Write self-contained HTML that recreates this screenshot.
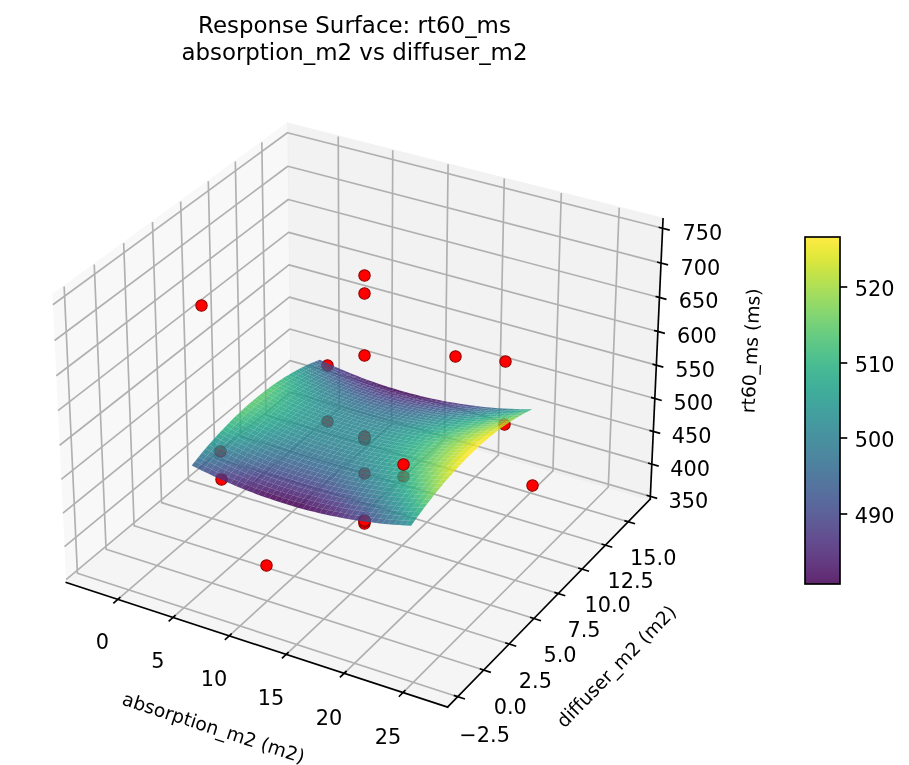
<!DOCTYPE html>
<html lang="en"><head><meta charset="utf-8"><title>Response Surface: rt60_ms</title>
<style>html,body{margin:0;padding:0;background:#fff}body{width:909px;height:765px;overflow:hidden}svg{display:block}text{font-family:"DejaVu Sans","Liberation Sans",sans-serif;fill:#000;stroke:none;font-variant-ligatures:none}</style></head>
<body>
<svg width="909" height="765" viewBox="64.8 21.12 436.32 367.2" stroke-linejoin="round" stroke-linecap="butt" role="img" aria-label="Response Surface: rt60_ms, absorption_m2 vs diffuser_m2">
<path d="M96.61 300.75L204.22 210.54L202.72 80.45L89.96 162.74" fill="#f2f2f2" opacity="0.5" stroke="#f2f2f2" stroke-linejoin="miter"/><path d="M204.22 210.54L376.9 260.73L383.06 126.16L202.72 80.45" fill="#e6e6e6" opacity="0.5" stroke="#e6e6e6" stroke-linejoin="miter"/><path d="M96.61 300.75L279.66 360.53L376.9 260.73L204.22 210.54" fill="#ececec" opacity="0.5" stroke="#ececec" stroke-linejoin="miter"/><path d="M121.35 308.83L227.66 217.35L227.15 86.65" fill="none" stroke="#b0b0b0" stroke-width="0.8"/><path d="M147.88 317.49L252.74 224.65L253.32 93.28" fill="none" stroke="#b0b0b0" stroke-width="0.8"/><path d="M174.82 326.29L278.19 232.04L279.88 100.01" fill="none" stroke="#b0b0b0" stroke-width="0.8"/><path d="M202.19 335.23L304.01 239.55L306.85 106.84" fill="none" stroke="#b0b0b0" stroke-width="0.8"/><path d="M230 344.31L330.2 247.16L334.22 113.78" fill="none" stroke="#b0b0b0" stroke-width="0.8"/><path d="M258.25 353.54L356.78 254.89L362.01 120.83" fill="none" stroke="#b0b0b0" stroke-width="0.8"/><path d="M95.59 158.63L101.96 296.26L284.52 355.54" fill="none" stroke="#b0b0b0" stroke-width="0.8"/><path d="M110.04 148.09L115.71 284.74L296.98 342.75" fill="none" stroke="#b0b0b0" stroke-width="0.8"/><path d="M124.17 137.78L129.17 273.45L309.17 330.24" fill="none" stroke="#b0b0b0" stroke-width="0.8"/><path d="M138 127.69L142.35 262.4L321.1 318" fill="none" stroke="#b0b0b0" stroke-width="0.8"/><path d="M151.53 117.81L155.27 251.58L332.77 306.02" fill="none" stroke="#b0b0b0" stroke-width="0.8"/><path d="M164.79 108.14L167.92 240.97L344.2 294.3" fill="none" stroke="#b0b0b0" stroke-width="0.8"/><path d="M177.76 98.67L180.33 230.57L355.38 282.82" fill="none" stroke="#b0b0b0" stroke-width="0.8"/><path d="M190.47 89.39L192.49 220.38L366.34 271.57" fill="none" stroke="#b0b0b0" stroke-width="0.8"/><path d="M376.96 259.4L204.2 209.25L96.54 299.38" fill="none" stroke="#b0b0b0" stroke-width="0.8"/><path d="M377.67 243.89L204.03 194.23L95.77 283.5" fill="none" stroke="#b0b0b0" stroke-width="0.8"/><path d="M378.39 228.23L203.86 179.07L95 267.45" fill="none" stroke="#b0b0b0" stroke-width="0.8"/><path d="M379.11 212.4L203.68 163.75L94.22 251.23" fill="none" stroke="#b0b0b0" stroke-width="0.8"/><path d="M379.85 196.4L203.5 148.28L93.43 234.83" fill="none" stroke="#b0b0b0" stroke-width="0.8"/><path d="M380.59 180.24L203.32 132.66L92.63 218.25" fill="none" stroke="#b0b0b0" stroke-width="0.8"/><path d="M381.33 163.91L203.14 116.88L91.83 201.49" fill="none" stroke="#b0b0b0" stroke-width="0.8"/><path d="M382.09 147.4L202.96 100.94L91.01 184.55" fill="none" stroke="#b0b0b0" stroke-width="0.8"/><path d="M382.85 130.71L202.77 84.84L90.18 167.42" fill="none" stroke="#b0b0b0" stroke-width="0.8"/><path d="M96.61 300.75L279.66 360.53" fill="none" stroke="#000" stroke-width="0.8" stroke-linecap="square"/><path d="M122.28 308.03L119.5 310.43" fill="none" stroke="#000" stroke-width="0.8" stroke-linecap="square"/><g transform="translate(.144 0)"><text font-size="10" text-anchor="middle" x="113.84221" y="332.64">0</text></g><path d="M148.79 316.68L146.05 319.11" fill="none" stroke="#000" stroke-width="0.8" stroke-linecap="square"/><g transform="translate(.144 0)"><text font-size="10" text-anchor="middle" x="140.390412" y="341.76">5</text></g><path d="M175.72 325.47L173.02 327.94" fill="none" stroke="#000" stroke-width="0.8" stroke-linecap="square"/><g transform="translate(.144 0)"><text font-size="10" text-anchor="middle" x="167.356785" y="350.4">10</text></g><path d="M203.08 334.4L200.41 336.9" fill="none" stroke="#000" stroke-width="0.8" stroke-linecap="square"/><g transform="translate(.144 0)"><text font-size="10" text-anchor="middle" x="194.751289" y="359.52">15</text></g><path d="M230.87 343.46L228.24 346.01" fill="none" stroke="#000" stroke-width="0.8" stroke-linecap="square"/><g transform="translate(.144 0)"><text font-size="10" text-anchor="middle" x="222.584201" y="368.88">20</text></g><path d="M259.11 352.68L256.52 355.27" fill="none" stroke="#000" stroke-width="0.8" stroke-linecap="square"/><g transform="translate(.144 0)"><text font-size="10" text-anchor="middle" x="250.86613" y="378">25</text></g><g transform="translate(.288 .413)"><text font-size="9" text-anchor="middle" x="166.096084" y="372.989938" transform="rotate(-341.913 166.096 372.99)">absorption_m2 (m2)</text></g><path d="M376.9 260.73L279.66 360.53" fill="none" stroke="#000" stroke-width="0.8" stroke-linecap="square"/><path d="M282.98 355.04L287.6 356.54" fill="none" stroke="#000" stroke-width="0.8" stroke-linecap="square"/><text font-size="10" text-anchor="middle" x="297.415962" y="377.184">−2.5</text><path d="M295.45 342.26L300.04 343.73" fill="none" stroke="#000" stroke-width="0.8" stroke-linecap="square"/><text font-size="10" text-anchor="middle" x="309.74273" y="364.032">0.0</text><path d="M307.66 329.76L312.21 331.2" fill="none" stroke="#000" stroke-width="0.8" stroke-linecap="square"/><text font-size="10" text-anchor="middle" x="321.800219" y="351.36">2.5</text><path d="M319.59 317.53L324.11 318.94" fill="none" stroke="#000" stroke-width="0.8" stroke-linecap="square"/><text font-size="10" text-anchor="middle" x="333.597157" y="339.12">5.0</text><path d="M331.28 305.56L335.76 306.94" fill="none" stroke="#000" stroke-width="0.8" stroke-linecap="square"/><text font-size="10" text-anchor="middle" x="345.1419" y="326.784">7.5</text><path d="M342.72 293.85L347.16 295.19" fill="none" stroke="#000" stroke-width="0.8" stroke-linecap="square"/><text font-size="10" text-anchor="middle" x="356.442449" y="315.12">10.0</text><path d="M353.91 282.38L358.33 283.69" fill="none" stroke="#000" stroke-width="0.8" stroke-linecap="square"/><text font-size="10" text-anchor="middle" x="367.506471" y="303.36">12.5</text><path d="M364.88 271.14L369.26 272.43" fill="none" stroke="#000" stroke-width="0.8" stroke-linecap="square"/><text font-size="10" text-anchor="middle" x="378.341315" y="292.128">15.0</text><g transform="translate(-.576 .557)"><text font-size="9" text-anchor="middle" x="363.42784" y="342.535096" transform="rotate(-45.742 363.428 342.535)">diffuser_m2 (m2)</text></g><path d="M376.9 260.73L383.06 126.16" fill="none" stroke="#000" stroke-width="0.8" stroke-linecap="square"/><path d="M375.51 258.97L379.87 260.24" fill="none" stroke="#000" stroke-width="0.8" stroke-linecap="square"/><text font-size="10" text-anchor="middle" x="395.228524" y="264.864">350</text><path d="M376.21 243.47L380.59 244.73" fill="none" stroke="#000" stroke-width="0.8" stroke-linecap="square"/><text font-size="10" text-anchor="middle" x="396.030769" y="249.456">400</text><path d="M376.92 227.81L381.32 229.05" fill="none" stroke="#000" stroke-width="0.8" stroke-linecap="square"/><text font-size="10" text-anchor="middle" x="396.841314" y="233.616">450</text><path d="M377.64 211.99L382.06 213.22" fill="none" stroke="#000" stroke-width="0.8" stroke-linecap="square"/><text font-size="10" text-anchor="middle" x="397.660288" y="217.728">500</text><path d="M378.36 196L382.81 197.21" fill="none" stroke="#000" stroke-width="0.8" stroke-linecap="square"/><text font-size="10" text-anchor="middle" x="398.487824" y="201.888">550</text><path d="M379.1 179.84L383.57 181.04" fill="none" stroke="#000" stroke-width="0.8" stroke-linecap="square"/><text font-size="10" text-anchor="middle" x="399.324056" y="185.616">600</text><path d="M379.84 163.51L384.33 164.7" fill="none" stroke="#000" stroke-width="0.8" stroke-linecap="square"/><text font-size="10" text-anchor="middle" x="400.169122" y="169.2">650</text><path d="M380.58 147.01L385.11 148.18" fill="none" stroke="#000" stroke-width="0.8" stroke-linecap="square"/><text font-size="10" text-anchor="middle" x="401.023164" y="153.072">700</text><path d="M381.34 130.33L385.89 131.49" fill="none" stroke="#000" stroke-width="0.8" stroke-linecap="square"/><text font-size="10" text-anchor="middle" x="401.886324" y="136.224">750</text><g transform="translate(-.816 .845)"><text font-size="9" text-anchor="middle" x="429.117467" y="188.753536" transform="rotate(-87.378 429.117 188.754)">rt60_ms (ms)</text></g><circle cx="222" cy="223.44" r="2.7386" fill="#f00" stroke="#8b0000" stroke-width=".5"/><g transform="translate(0 .509)"><text font-size="11" text-anchor="middle" x="234.936" y="36.6">Response Surface: rt60_ms</text><text font-size="11" text-anchor="middle" x="234.936" y="49.224">absorption_m2 vs diffuser_m2</text></g><circle cx="283.44" cy="192.24" r="2.7386" fill="#f00" stroke="#8b0000" stroke-width=".5"/><circle cx="222" cy="196.56" r="2.7386" fill="#f00" stroke="#8b0000" stroke-width=".5"/><circle cx="239.76" cy="272.4" r="2.7386" fill="#f00" stroke="#8b0000" stroke-width=".5"/><circle cx="239.76" cy="271.44" r="2.7386" fill="#f00" stroke="#8b0000" stroke-width=".5"/><circle cx="239.76" cy="270.96" r="2.7386" fill="#f00" stroke="#8b0000" stroke-width=".5"/><circle cx="306.96" cy="224.88" r="2.7386" fill="#f00" stroke="#8b0000" stroke-width=".5"/><circle cx="161.52" cy="167.76" r="2.7386" fill="#f00" stroke="#8b0000" stroke-width=".5"/><circle cx="239.76" cy="248.4" r="2.7386" fill="#f00" stroke="#8b0000" stroke-width=".5"/><circle cx="239.76" cy="232.08" r="2.7386" fill="#f00" stroke="#8b0000" stroke-width=".5"/><circle cx="239.76" cy="231.6" r="2.7386" fill="#f00" stroke="#8b0000" stroke-width=".5"/><circle cx="239.76" cy="230.64" r="2.7386" fill="#f00" stroke="#8b0000" stroke-width=".5"/><circle cx="307.44" cy="194.64" r="2.7386" fill="#f00" stroke="#8b0000" stroke-width=".5"/><circle cx="171.12" cy="251.28" r="2.7386" fill="#f00" stroke="#8b0000" stroke-width=".5"/><circle cx="170.64" cy="237.84" r="2.7386" fill="#f00" stroke="#8b0000" stroke-width=".5"/><circle cx="239.76" cy="191.76" r="2.7386" fill="#f00" stroke="#8b0000" stroke-width=".5"/><circle cx="239.76" cy="162" r="2.7386" fill="#f00" stroke="#8b0000" stroke-width=".5"/><circle cx="320.4" cy="254.16" r="2.7386" fill="#f00" stroke="#8b0000" stroke-width=".5"/><circle cx="239.76" cy="153.36" r="2.7386" fill="#f00" stroke="#8b0000" stroke-width=".5"/><circle cx="192.72" cy="292.56" r="2.7386" fill="#f00" stroke="#8b0000" stroke-width=".5"/><circle cx="258.48" cy="249.84" r="2.7386" fill="#f00" stroke="#8b0000" stroke-width=".5"/><g fill-opacity=".85"><path d="M216.81 194.39L219.35 195.59L220.85 195.02L218.31 193.82z" fill="#39568c"/><path d="M219.35 195.59L221.9 196.76L223.4 196.18L220.85 195.02z" fill="#3d4d8a"/><path d="M221.9 196.76L224.45 197.89L225.94 197.31L223.4 196.18z" fill="#404588"/><path d="M215.3 195L217.84 196.2L219.35 195.59L216.81 194.39z" fill="#33628d"/><path d="M224.45 197.89L227 199L228.49 198.42L225.94 197.31z" fill="#433d84"/><path d="M217.84 196.2L220.39 197.37L221.9 196.76L219.35 195.59z" fill="#375a8c"/><path d="M227 199L229.55 200.07L231.05 199.49L228.49 198.42z" fill="#463480"/><path d="M220.39 197.37L222.95 198.51L224.45 197.89L221.9 196.76z" fill="#3b528b"/><path d="M213.78 195.65L216.33 196.85L217.84 196.2L215.3 195z" fill="#2e6e8e"/><path d="M229.55 200.07L232.11 201.12L233.6 200.53L231.05 199.49z" fill="#472e7c"/><path d="M222.95 198.51L225.5 199.62L227 199L224.45 197.89z" fill="#3e4a89"/><path d="M216.33 196.85L218.88 198.02L220.39 197.37L217.84 196.2z" fill="#32658e"/><path d="M232.11 201.12L234.67 202.13L236.16 201.54L233.6 200.53z" fill="#482677"/><path d="M225.5 199.62L228.06 200.7L229.55 200.07L227 199z" fill="#414287"/><path d="M218.88 198.02L221.44 199.17L222.95 198.51L220.39 197.37z" fill="#355e8d"/><path d="M234.67 202.13L237.24 203.12L238.72 202.52L236.16 201.54z" fill="#482173"/><path d="M212.26 196.33L214.82 197.53L216.33 196.85L213.78 195.65z" fill="#2a778e"/><path d="M228.06 200.7L230.62 201.75L232.11 201.12L229.55 200.07z" fill="#443b84"/><path d="M221.44 199.17L224 200.28L225.5 199.62L222.95 198.51z" fill="#39568c"/><path d="M237.24 203.12L239.8 204.07L241.28 203.47L238.72 202.52z" fill="#481b6d"/><path d="M214.82 197.53L217.37 198.71L218.88 198.02L216.33 196.85z" fill="#2d708e"/><path d="M230.62 201.75L233.18 202.76L234.67 202.13L232.11 201.12z" fill="#453581"/><path d="M224 200.28L226.56 201.36L228.06 200.7L225.5 199.62z" fill="#3c4f8a"/><path d="M217.37 198.71L219.93 199.86L221.44 199.17L218.88 198.02z" fill="#31688e"/><path d="M239.8 204.07L242.38 204.99L243.85 204.39L241.28 203.47z" fill="#481769"/><path d="M233.18 202.76L235.75 203.75L237.24 203.12L234.67 202.13z" fill="#472f7d"/><path d="M210.74 197.04L213.3 198.26L214.82 197.53L212.26 196.33z" fill="#26818e"/><path d="M226.56 201.36L229.12 202.41L230.62 201.75L228.06 200.7z" fill="#3f4889"/><path d="M219.93 199.86L222.49 200.97L224 200.28L221.44 199.17z" fill="#34618d"/><path d="M242.38 204.99L244.95 205.89L246.42 205.28L243.85 204.39z" fill="#471365"/><path d="M235.75 203.75L238.32 204.71L239.8 204.07L237.24 203.12z" fill="#472a7a"/><path d="M213.3 198.26L215.85 199.44L217.37 198.71L214.82 197.53z" fill="#29798e"/><path d="M229.12 202.41L231.69 203.43L233.18 202.76L230.62 201.75z" fill="#414287"/><path d="M222.49 200.97L225.05 202.06L226.56 201.36L224 200.28z" fill="#375b8d"/><path d="M244.95 205.89L247.53 206.75L249 206.14L246.42 205.28z" fill="#470e61"/><path d="M215.85 199.44L218.41 200.59L219.93 199.86L217.37 198.71z" fill="#2c718e"/><path d="M238.32 204.71L240.89 205.63L242.38 204.99L239.8 204.07z" fill="#482576"/><path d="M231.69 203.43L234.26 204.42L235.75 203.75L233.18 202.76z" fill="#433d84"/><path d="M209.22 197.8L211.77 199.01L213.3 198.26L210.74 197.04z" fill="#23898e"/><path d="M225.05 202.06L227.62 203.11L229.12 202.41L226.56 201.36z" fill="#3a548c"/><path d="M218.41 200.59L220.98 201.71L222.49 200.97L219.93 199.86z" fill="#2f6b8e"/><path d="M247.53 206.75L250.11 207.58L251.58 206.97L249 206.14z" fill="#460b5e"/><path d="M240.89 205.63L243.47 206.53L244.95 205.89L242.38 204.99z" fill="#482173"/><path d="M211.77 199.01L214.33 200.2L215.85 199.44L213.3 198.26z" fill="#26828e"/><path d="M234.26 204.42L236.83 205.38L238.32 204.71L235.75 203.75z" fill="#453882"/><path d="M227.62 203.11L230.19 204.14L231.69 203.43L229.12 202.41z" fill="#3d4e8a"/><path d="M220.98 201.71L223.54 202.79L225.05 202.06L222.49 200.97z" fill="#32658e"/><path d="M250.11 207.58L252.7 208.38L254.16 207.76L251.58 206.97z" fill="#460a5d"/><path d="M243.47 206.53L246.05 207.39L247.53 206.75L244.95 205.89z" fill="#481f70"/><path d="M214.33 200.2L216.9 201.35L218.41 200.59L215.85 199.44z" fill="#297a8e"/><path d="M236.83 205.38L239.41 206.31L240.89 205.63L238.32 204.71z" fill="#46337f"/><path d="M230.19 204.14L232.76 205.13L234.26 204.42L231.69 203.43z" fill="#3e4989"/><path d="M207.68 198.59L210.25 199.81L211.77 199.01L209.22 197.8z" fill="#20928c"/><path d="M223.54 202.79L226.11 203.85L227.62 203.11L225.05 202.06z" fill="#355f8d"/><path d="M216.9 201.35L219.46 202.47L220.98 201.71L218.41 200.59z" fill="#2c738e"/><path d="M252.7 208.38L255.29 209.15L256.75 208.53L254.16 207.76z" fill="#46085c"/><path d="M246.05 207.39L248.64 208.23L250.11 207.58L247.53 206.75z" fill="#481c6e"/><path d="M239.41 206.31L241.99 207.21L243.47 206.53L240.89 205.63z" fill="#472f7d"/><path d="M210.25 199.81L212.81 201L214.33 200.2L211.77 199.01z" fill="#238a8d"/><path d="M232.76 205.13L235.34 206.09L236.83 205.38L234.26 204.42z" fill="#414487"/><path d="M226.11 203.85L228.69 204.88L230.19 204.14L227.62 203.11z" fill="#38598c"/><path d="M219.46 202.47L222.03 203.57L223.54 202.79L220.98 201.71z" fill="#2e6e8e"/><path d="M255.29 209.15L257.88 209.89L259.34 209.27L256.75 208.53z" fill="#46085c"/><path d="M248.64 208.23L251.22 209.03L252.7 208.38L250.11 207.58z" fill="#481b6d"/><path d="M212.81 201L215.37 202.16L216.9 201.35L214.33 200.2z" fill="#26828e"/><path d="M241.99 207.21L244.57 208.08L246.05 207.39L243.47 206.53z" fill="#472d7b"/><path d="M235.34 206.09L237.92 207.03L239.41 206.31L236.83 205.38z" fill="#424086"/><path d="M228.69 204.88L231.26 205.88L232.76 205.13L230.19 204.14z" fill="#3a538b"/><path d="M206.15 199.42L208.71 200.65L210.25 199.81L207.68 198.59z" fill="#1f998a"/><path d="M222.03 203.57L224.6 204.63L226.11 203.85L223.54 202.79z" fill="#31688e"/><path d="M215.37 202.16L217.94 203.28L219.46 202.47L216.9 201.35z" fill="#287c8e"/><path d="M257.88 209.89L260.48 210.6L261.93 209.97L259.34 209.27z" fill="#46085c"/><path d="M251.22 209.03L253.82 209.81L255.29 209.15L252.7 208.38z" fill="#481a6c"/><path d="M244.57 208.08L247.16 208.92L248.64 208.23L246.05 207.39z" fill="#472a7a"/><path d="M237.92 207.03L240.5 207.93L241.99 207.21L239.41 206.31z" fill="#433d84"/><path d="M208.71 200.65L211.28 201.84L212.81 201L210.25 199.81z" fill="#20928c"/><path d="M231.26 205.88L233.84 206.84L235.34 206.09L232.76 205.13z" fill="#3c4f8a"/><path d="M224.6 204.63L227.18 205.66L228.69 204.88L226.11 203.85z" fill="#33628d"/><path d="M217.94 203.28L220.51 204.38L222.03 203.57L219.46 202.47z" fill="#2b758e"/><path d="M253.82 209.81L256.41 210.55L257.88 209.89L255.29 209.15z" fill="#48186a"/><path d="M260.48 210.6L263.08 211.27L264.53 210.65L261.93 209.97z" fill="#460a5d"/><path d="M211.28 201.84L213.85 203L215.37 202.16L212.81 201z" fill="#238a8d"/><path d="M247.16 208.92L249.75 209.72L251.22 209.03L248.64 208.23z" fill="#482878"/><path d="M240.5 207.93L243.09 208.8L244.57 208.08L241.99 207.21z" fill="#443983"/><path d="M233.84 206.84L236.42 207.78L237.92 207.03L235.34 206.09z" fill="#3e4a89"/><path d="M204.61 200.29L207.18 201.52L208.71 200.65L206.15 199.42z" fill="#1fa188"/><path d="M227.18 205.66L229.76 206.66L231.26 205.88L228.69 204.88z" fill="#365d8d"/><path d="M220.51 204.38L223.09 205.44L224.6 204.63L222.03 203.57z" fill="#2d708e"/><path d="M213.85 203L216.42 204.13L217.94 203.28L215.37 202.16z" fill="#25838e"/><path d="M256.41 210.55L259.01 211.26L260.48 210.6L257.88 209.89z" fill="#481a6c"/><path d="M249.75 209.72L252.34 210.5L253.82 209.81L251.22 209.03z" fill="#482878"/><path d="M263.08 211.27L265.68 211.92L267.14 211.29L264.53 210.65z" fill="#470d60"/><path d="M243.09 208.8L245.68 209.64L247.16 208.92L244.57 208.08z" fill="#453781"/><path d="M207.18 201.52L209.75 202.71L211.28 201.84L208.71 200.65z" fill="#1f988b"/><path d="M236.42 207.78L239.01 208.68L240.5 207.93L237.92 207.03z" fill="#3f4788"/><path d="M229.76 206.66L232.34 207.63L233.84 206.84L231.26 205.88z" fill="#38598c"/><path d="M223.09 205.44L225.67 206.48L227.18 205.66L224.6 204.63z" fill="#2f6b8e"/><path d="M216.42 204.13L218.99 205.23L220.51 204.38L217.94 203.28z" fill="#287d8e"/><path d="M209.75 202.71L212.32 203.88L213.85 203L211.28 201.84z" fill="#21918c"/><path d="M252.34 210.5L254.94 211.24L256.41 210.55L253.82 209.81z" fill="#482677"/><path d="M245.68 209.64L248.27 210.45L249.75 209.72L247.16 208.92z" fill="#453581"/><path d="M259.01 211.26L261.62 211.94L263.08 211.27L260.48 210.6z" fill="#481b6d"/><path d="M239.01 208.68L241.6 209.56L243.09 208.8L240.5 207.93z" fill="#404588"/><path d="M265.68 211.92L268.29 212.54L269.74 211.9L267.14 211.29z" fill="#471063"/><path d="M232.34 207.63L234.92 208.57L236.42 207.78L233.84 206.84z" fill="#3a548c"/><path d="M203.07 201.2L205.64 202.43L207.18 201.52L204.61 200.29z" fill="#21a685"/><path d="M225.67 206.48L228.25 207.48L229.76 206.66L227.18 205.66z" fill="#31668e"/><path d="M218.99 205.23L221.57 206.3L223.09 205.44L220.51 204.38z" fill="#2a778e"/><path d="M212.32 203.88L214.89 205.01L216.42 204.13L213.85 203z" fill="#238a8d"/><path d="M248.27 210.45L250.87 211.23L252.34 210.5L249.75 209.72z" fill="#463480"/><path d="M254.94 211.24L257.55 211.96L259.01 211.26L256.41 210.55z" fill="#482878"/><path d="M241.6 209.56L244.19 210.4L245.68 209.64L243.09 208.8z" fill="#414287"/><path d="M205.64 202.43L208.21 203.63L209.75 202.71L207.18 201.52z" fill="#1f9f88"/><path d="M261.62 211.94L264.23 212.59L265.68 211.92L263.08 211.27z" fill="#481c6e"/><path d="M234.92 208.57L237.51 209.48L239.01 208.68L236.42 207.78z" fill="#3b518b"/><path d="M268.29 212.54L270.91 213.12L272.35 212.48L269.74 211.9z" fill="#471365"/><path d="M228.25 207.48L230.83 208.46L232.34 207.63L229.76 206.66z" fill="#33628d"/><path d="M221.57 206.3L224.15 207.33L225.67 206.48L223.09 205.44z" fill="#2c728e"/><path d="M214.89 205.01L217.47 206.11L218.99 205.23L216.42 204.13z" fill="#25848e"/><path d="M208.21 203.63L210.78 204.79L212.32 203.88L209.75 202.71z" fill="#1f978b"/><path d="M250.87 211.23L253.47 211.98L254.94 211.24L252.34 210.5z" fill="#46337f"/><path d="M244.19 210.4L246.79 211.22L248.27 210.45L245.68 209.64z" fill="#424086"/><path d="M257.55 211.96L260.15 212.64L261.62 211.94L259.01 211.26z" fill="#482878"/><path d="M237.51 209.48L240.1 210.36L241.6 209.56L239.01 208.68z" fill="#3c4f8a"/><path d="M264.23 212.59L266.84 213.21L268.29 212.54L265.68 211.92z" fill="#481f70"/><path d="M230.83 208.46L233.42 209.4L234.92 208.57L232.34 207.63z" fill="#355e8d"/><path d="M201.52 202.14L204.09 203.38L205.64 202.43L203.07 201.2z" fill="#26ad81"/><path d="M270.91 213.12L273.53 213.67L274.97 213.03L272.35 212.48z" fill="#48186a"/><path d="M224.15 207.33L226.73 208.34L228.25 207.48L225.67 206.48z" fill="#2e6e8e"/><path d="M217.47 206.11L220.05 207.19L221.57 206.3L218.99 205.23z" fill="#277f8e"/><path d="M210.78 204.79L213.36 205.93L214.89 205.01L212.32 203.88z" fill="#21918c"/><path d="M204.09 203.38L206.67 204.58L208.21 203.63L205.64 202.43z" fill="#20a486"/><path d="M246.79 211.22L249.39 212L250.87 211.23L248.27 210.45z" fill="#423f85"/><path d="M240.1 210.36L242.7 211.2L244.19 210.4L241.6 209.56z" fill="#3d4d8a"/><path d="M253.47 211.98L256.07 212.69L257.55 211.96L254.94 211.24z" fill="#463480"/><path d="M233.42 209.4L236.01 210.31L237.51 209.48L234.92 208.57z" fill="#375b8d"/><path d="M260.15 212.64L262.76 213.29L264.23 212.59L261.62 211.94z" fill="#472a7a"/><path d="M226.73 208.34L229.32 209.32L230.83 208.46L228.25 207.48z" fill="#306a8e"/><path d="M266.84 213.21L269.46 213.79L270.91 213.12L268.29 212.54z" fill="#482374"/><path d="M220.05 207.19L222.63 208.23L224.15 207.33L221.57 206.3z" fill="#29798e"/><path d="M273.53 213.67L276.15 214.2L277.59 213.55L274.97 213.03z" fill="#481c6e"/><path d="M213.36 205.93L215.94 207.04L217.47 206.11L214.89 205.01z" fill="#238a8d"/><path d="M206.67 204.58L209.24 205.75L210.78 204.79L208.21 203.63z" fill="#1e9d89"/><path d="M242.7 211.2L245.3 212.02L246.79 211.22L244.19 210.4z" fill="#3e4a89"/><path d="M249.39 212L251.99 212.75L253.47 211.98L250.87 211.23z" fill="#423f85"/><path d="M236.01 210.31L238.6 211.19L240.1 210.36L237.51 209.48z" fill="#38588c"/><path d="M199.97 203.13L202.55 204.36L204.09 203.38L201.52 202.14z" fill="#2cb17e"/><path d="M256.07 212.69L258.68 213.38L260.15 212.64L257.55 211.96z" fill="#453581"/><path d="M229.32 209.32L231.91 210.26L233.42 209.4L230.83 208.46z" fill="#31668e"/><path d="M262.76 213.29L265.38 213.91L266.84 213.21L264.23 212.59z" fill="#472d7b"/><path d="M222.63 208.23L225.22 209.24L226.73 208.34L224.15 207.33z" fill="#2b748e"/><path d="M269.46 213.79L272.08 214.35L273.53 213.67L270.91 213.12z" fill="#482677"/><path d="M215.94 207.04L218.52 208.11L220.05 207.19L217.47 206.11z" fill="#25848e"/><path d="M276.15 214.2L278.78 214.69L280.22 214.04L277.59 213.55z" fill="#482374"/><path d="M209.24 205.75L211.82 206.89L213.36 205.93L210.78 204.79z" fill="#1f968b"/><path d="M202.55 204.36L205.12 205.57L206.67 204.58L204.09 203.38z" fill="#24aa83"/><path d="M245.3 212.02L247.9 212.8L249.39 212L246.79 211.22z" fill="#3e4989"/><path d="M238.6 211.19L241.2 212.04L242.7 211.2L240.1 210.36z" fill="#39558c"/><path d="M251.99 212.75L254.6 213.47L256.07 212.69L253.47 211.98z" fill="#423f85"/><path d="M231.91 210.26L234.5 211.18L236.01 210.31L233.42 209.4z" fill="#33638d"/><path d="M258.68 213.38L261.3 214.04L262.76 213.29L260.15 212.64z" fill="#453781"/><path d="M225.22 209.24L227.81 210.22L229.32 209.32L226.73 208.34z" fill="#2d718e"/><path d="M265.38 213.91L268 214.5L269.46 213.79L266.84 213.21z" fill="#472f7d"/><path d="M218.52 208.11L221.11 209.16L222.63 208.23L220.05 207.19z" fill="#27808e"/><path d="M272.08 214.35L274.7 214.87L276.15 214.2L273.53 213.67z" fill="#472c7a"/><path d="M211.82 206.89L214.41 208L215.94 207.04L213.36 205.93z" fill="#21908d"/><path d="M278.78 214.69L281.41 215.15L282.85 214.5L280.22 214.04z" fill="#482878"/><path d="M205.12 205.57L207.7 206.74L209.24 205.75L206.67 204.58z" fill="#1fa287"/><path d="M198.42 204.15L200.99 205.39L202.55 204.36L199.97 203.13z" fill="#32b67a"/><path d="M241.2 212.04L243.8 212.86L245.3 212.02L242.7 211.2z" fill="#3a548c"/><path d="M234.5 211.18L237.1 212.06L238.6 211.19L236.01 210.31z" fill="#34608d"/><path d="M247.9 212.8L250.51 213.56L251.99 212.75L249.39 212z" fill="#3e4989"/><path d="M227.81 210.22L230.4 211.17L231.91 210.26L229.32 209.32z" fill="#2e6d8e"/><path d="M254.6 213.47L257.21 214.16L258.68 213.38L256.07 212.69z" fill="#424086"/><path d="M221.11 209.16L223.7 210.17L225.22 209.24L222.63 208.23z" fill="#297b8e"/><path d="M261.3 214.04L263.92 214.66L265.38 213.91L262.76 213.29z" fill="#443983"/><path d="M214.41 208L216.99 209.08L218.52 208.11L215.94 207.04z" fill="#238a8d"/><path d="M268 214.5L270.62 215.06L272.08 214.35L269.46 213.79z" fill="#463480"/><path d="M207.7 206.74L210.28 207.89L211.82 206.89L209.24 205.75z" fill="#1e9c89"/><path d="M274.7 214.87L277.33 215.37L278.78 214.69L276.15 214.2z" fill="#46307e"/><path d="M200.99 205.39L203.57 206.6L205.12 205.57L202.55 204.36z" fill="#28ae80"/><path d="M281.41 215.15L284.05 215.57L285.48 214.93L282.85 214.5z" fill="#472f7d"/><path d="M237.1 212.06L239.7 212.92L241.2 212.04L238.6 211.19z" fill="#355e8d"/><path d="M243.8 212.86L246.41 213.65L247.9 212.8L245.3 212.02z" fill="#3a538b"/><path d="M230.4 211.17L233 212.09L234.5 211.18L231.91 210.26z" fill="#306a8e"/><path d="M250.51 213.56L253.12 214.28L254.6 213.47L251.99 212.75z" fill="#3e4989"/><path d="M223.7 210.17L226.29 211.16L227.81 210.22L225.22 209.24z" fill="#2a768e"/><path d="M257.21 214.16L259.83 214.82L261.3 214.04L258.68 213.38z" fill="#424186"/><path d="M216.99 209.08L219.58 210.13L221.11 209.16L218.52 208.11z" fill="#25858e"/><path d="M263.92 214.66L266.54 215.25L268 214.5L265.38 213.91z" fill="#443b84"/><path d="M210.28 207.89L212.87 209L214.41 208L211.82 206.89z" fill="#1f958b"/><path d="M270.62 215.06L273.25 215.59L274.7 214.87L272.08 214.35z" fill="#453882"/><path d="M203.57 206.6L206.16 207.78L207.7 206.74L205.12 205.57z" fill="#22a785"/><path d="M277.33 215.37L279.97 215.83L281.41 215.15L278.78 214.69z" fill="#453781"/><path d="M196.86 205.21L199.44 206.45L200.99 205.39L198.42 204.15z" fill="#38b977"/><path d="M239.7 212.92L242.31 213.74L243.8 212.86L241.2 212.04z" fill="#365c8d"/><path d="M233 212.09L235.6 212.97L237.1 212.06L234.5 211.18z" fill="#31678e"/><path d="M284.05 215.57L286.69 215.97L288.12 215.32L285.48 214.93z" fill="#453781"/><path d="M246.41 213.65L249.02 214.4L250.51 213.56L247.9 212.8z" fill="#3b528b"/><path d="M226.29 211.16L228.88 212.11L230.4 211.17L227.81 210.22z" fill="#2c738e"/><path d="M253.12 214.28L255.73 214.97L257.21 214.16L254.6 213.47z" fill="#3e4a89"/><path d="M219.58 210.13L222.17 211.15L223.7 210.17L221.11 209.16z" fill="#26818e"/><path d="M259.83 214.82L262.45 215.44L263.92 214.66L261.3 214.04z" fill="#414487"/><path d="M212.87 209L215.46 210.09L216.99 209.08L214.41 208z" fill="#21908d"/><path d="M266.54 215.25L269.17 215.81L270.62 215.06L268 214.5z" fill="#424086"/><path d="M206.16 207.78L208.74 208.92L210.28 207.89L207.7 206.74z" fill="#1fa088"/><path d="M273.25 215.59L275.89 216.09L277.33 215.37L274.7 214.87z" fill="#433d84"/><path d="M199.44 206.45L202.02 207.67L203.57 206.6L200.99 205.39z" fill="#2db27d"/><path d="M279.97 215.83L282.61 216.26L284.05 215.57L281.41 215.15z" fill="#433d84"/><path d="M235.6 212.97L238.2 213.83L239.7 212.92L237.1 212.06z" fill="#32658e"/><path d="M228.88 212.11L231.48 213.03L233 212.09L230.4 211.17z" fill="#2d708e"/><path d="M242.31 213.74L244.92 214.53L246.41 213.65L243.8 212.86z" fill="#375b8d"/><path d="M222.17 211.15L224.77 212.13L226.29 211.16L223.7 210.17z" fill="#287c8e"/><path d="M249.02 214.4L251.63 215.13L253.12 214.28L250.51 213.56z" fill="#3b528b"/><path d="M215.46 210.09L218.05 211.14L219.58 210.13L216.99 209.08z" fill="#238a8d"/><path d="M255.73 214.97L258.35 215.63L259.83 214.82L257.21 214.16z" fill="#3e4c8a"/><path d="M286.69 215.97L289.34 216.34L290.77 215.68L288.12 215.32z" fill="#433e85"/><path d="M208.74 208.92L211.33 210.04L212.87 209L210.28 207.89z" fill="#1f9a8a"/><path d="M262.45 215.44L265.07 216.04L266.54 215.25L263.92 214.66z" fill="#3f4788"/><path d="M202.02 207.67L204.61 208.85L206.16 207.78L203.57 206.6z" fill="#25ab82"/><path d="M269.17 215.81L271.8 216.35L273.25 215.59L270.62 215.06z" fill="#414487"/><path d="M195.3 206.31L197.88 207.55L199.44 206.45L196.86 205.21z" fill="#3fbc73"/><path d="M275.89 216.09L278.52 216.55L279.97 215.83L277.33 215.37z" fill="#414287"/><path d="M231.48 213.03L234.08 213.92L235.6 212.97L233 212.09z" fill="#2e6e8e"/><path d="M238.2 213.83L240.81 214.66L242.31 213.74L239.7 212.92z" fill="#33638d"/><path d="M224.77 212.13L227.36 213.09L228.88 212.11L226.29 211.16z" fill="#29798e"/><path d="M244.92 214.53L247.53 215.29L249.02 214.4L246.41 213.65z" fill="#375b8d"/><path d="M218.05 211.14L220.64 212.16L222.17 211.15L219.58 210.13z" fill="#25858e"/><path d="M282.61 216.26L285.26 216.66L286.69 215.97L284.05 215.57z" fill="#414487"/><path d="M251.63 215.13L254.25 215.83L255.73 214.97L253.12 214.28z" fill="#3a538b"/><path d="M211.33 210.04L213.92 211.13L215.46 210.09L212.87 209z" fill="#1f948c"/><path d="M258.35 215.63L260.98 216.26L262.45 215.44L259.83 214.82z" fill="#3d4e8a"/><path d="M204.61 208.85L207.19 210L208.74 208.92L206.16 207.78z" fill="#20a486"/><path d="M289.34 216.34L291.99 216.67L293.42 216.02L290.77 215.68z" fill="#3f4788"/><path d="M265.07 216.04L267.7 216.6L269.17 215.81L266.54 215.25z" fill="#3e4a89"/><path d="M197.88 207.55L200.46 208.77L202.02 207.67L199.44 206.45z" fill="#32b67a"/><path d="M271.8 216.35L274.43 216.84L275.89 216.09L273.25 215.59z" fill="#3f4889"/><path d="M234.08 213.92L236.69 214.78L238.2 213.83L235.6 212.97z" fill="#2f6b8e"/><path d="M227.36 213.09L229.96 214.01L231.48 213.03L228.88 212.11z" fill="#2b758e"/><path d="M240.81 214.66L243.42 215.45L244.92 214.53L242.31 213.74z" fill="#33628d"/><path d="M278.52 216.55L281.17 216.99L282.61 216.26L279.97 215.83z" fill="#3e4989"/><path d="M220.64 212.16L223.24 213.15L224.77 212.13L222.17 211.15z" fill="#26828e"/><path d="M247.53 215.29L250.14 216.02L251.63 215.13L249.02 214.4z" fill="#375b8d"/><path d="M213.92 211.13L216.51 212.18L218.05 211.14L215.46 210.09z" fill="#218f8d"/><path d="M254.25 215.83L256.87 216.49L258.35 215.63L255.73 214.97z" fill="#39558c"/><path d="M207.19 210L209.78 211.12L211.33 210.04L208.74 208.92z" fill="#1f9e89"/><path d="M285.26 216.66L287.91 217.03L289.34 216.34L286.69 215.97z" fill="#3e4c8a"/><path d="M260.98 216.26L263.6 216.86L265.07 216.04L262.45 215.44z" fill="#3b518b"/><path d="M200.46 208.77L203.05 209.96L204.61 208.85L202.02 207.67z" fill="#28ae80"/><path d="M267.7 216.6L270.34 217.14L271.8 216.35L269.17 215.81z" fill="#3c4f8a"/><path d="M193.73 207.44L196.32 208.7L197.88 207.55L195.3 206.31z" fill="#44bf70"/><path d="M291.99 216.67L294.65 216.97L296.07 216.32L293.42 216.02z" fill="#3c4f8a"/><path d="M274.43 216.84L277.07 217.31L278.52 216.55L275.89 216.09z" fill="#3d4e8a"/><path d="M229.96 214.01L232.57 214.91L234.08 213.92L231.48 213.03z" fill="#2c738e"/><path d="M223.24 213.15L225.84 214.11L227.36 213.09L224.77 212.13z" fill="#277e8e"/><path d="M236.69 214.78L239.3 215.61L240.81 214.66L238.2 213.83z" fill="#306a8e"/><path d="M216.51 212.18L219.11 213.21L220.64 212.16L218.05 211.14z" fill="#238a8d"/><path d="M243.42 215.45L246.03 216.21L247.53 215.29L244.92 214.53z" fill="#33628d"/><path d="M209.78 211.12L212.38 212.21L213.92 211.13L211.33 210.04z" fill="#1f988b"/><path d="M250.14 216.02L252.76 216.72L254.25 215.83L251.63 215.13z" fill="#365c8d"/><path d="M281.17 216.99L283.82 217.39L285.26 216.66L282.61 216.26z" fill="#3c508b"/><path d="M203.05 209.96L205.64 211.11L207.19 210L204.61 208.85z" fill="#22a785"/><path d="M256.87 216.49L259.5 217.12L260.98 216.26L258.35 215.63z" fill="#39568c"/><path d="M196.32 208.7L198.9 209.92L200.46 208.77L197.88 207.55z" fill="#37b878"/><path d="M263.6 216.86L266.24 217.43L267.7 216.6L265.07 216.04z" fill="#3a548c"/><path d="M287.91 217.03L290.56 217.37L291.99 216.67L289.34 216.34z" fill="#3a538b"/><path d="M270.34 217.14L272.98 217.64L274.43 216.84L271.8 216.35z" fill="#3a538b"/><path d="M225.84 214.11L228.44 215.04L229.96 214.01L227.36 213.09z" fill="#297b8e"/><path d="M232.57 214.91L235.18 215.77L236.69 214.78L234.08 213.92z" fill="#2d718e"/><path d="M219.11 213.21L221.71 214.2L223.24 213.15L220.64 212.16z" fill="#25858e"/><path d="M294.65 216.97L297.31 217.25L298.73 216.58L296.07 216.32z" fill="#38588c"/><path d="M239.3 215.61L241.91 216.41L243.42 215.45L240.81 214.66z" fill="#30698e"/><path d="M212.38 212.21L214.97 213.27L216.51 212.18L213.92 211.13z" fill="#20928c"/><path d="M277.07 217.31L279.72 217.75L281.17 216.99L278.52 216.55z" fill="#3a548c"/><path d="M246.03 216.21L248.65 216.95L250.14 216.02L247.53 215.29z" fill="#33628d"/><path d="M205.64 211.11L208.23 212.24L209.78 211.12L207.19 210z" fill="#1fa187"/><path d="M252.76 216.72L255.39 217.39L256.87 216.49L254.25 215.83z" fill="#365d8d"/><path d="M198.9 209.92L201.49 211.11L203.05 209.96L200.46 208.77z" fill="#2cb17e"/><path d="M259.5 217.12L262.13 217.73L263.6 216.86L260.98 216.26z" fill="#375a8c"/><path d="M283.82 217.39L286.47 217.76L287.91 217.03L285.26 216.66z" fill="#39568c"/><path d="M192.16 208.62L194.75 209.87L196.32 208.7L193.73 207.44z" fill="#4ac16d"/><path d="M266.24 217.43L268.87 217.97L270.34 217.14L267.7 216.6z" fill="#38588c"/><path d="M290.56 217.37L293.22 217.67L294.65 216.97L291.99 216.67z" fill="#375b8d"/><path d="M228.44 215.04L231.05 215.93L232.57 214.91L229.96 214.01z" fill="#2a788e"/><path d="M221.71 214.2L224.31 215.17L225.84 214.11L223.24 213.15z" fill="#26828e"/><path d="M235.18 215.77L237.79 216.6L239.3 215.61L236.69 214.78z" fill="#2d708e"/><path d="M214.97 213.27L217.57 214.3L219.11 213.21L216.51 212.18z" fill="#218e8d"/><path d="M272.98 217.64L275.62 218.11L277.07 217.31L274.43 216.84z" fill="#38598c"/><path d="M241.91 216.41L244.53 217.18L246.03 216.21L243.42 215.45z" fill="#31688e"/><path d="M208.23 212.24L210.83 213.33L212.38 212.21L209.78 211.12z" fill="#1e9b8a"/><path d="M248.65 216.95L251.27 217.65L252.76 216.72L250.14 216.02z" fill="#33638d"/><path d="M201.49 211.11L204.09 212.26L205.64 211.11L203.05 209.96z" fill="#24aa83"/><path d="M297.31 217.25L299.98 217.48L301.4 216.82L298.73 216.58z" fill="#34618d"/><path d="M279.72 217.75L282.37 218.15L283.82 217.39L281.17 216.99z" fill="#375a8c"/><path d="M255.39 217.39L258.02 218.02L259.5 217.12L256.87 216.49z" fill="#355f8d"/><path d="M194.75 209.87L197.34 211.1L198.9 209.92L196.32 208.7z" fill="#3aba76"/><path d="M262.13 217.73L264.76 218.3L266.24 217.43L263.6 216.86z" fill="#365d8d"/><path d="M286.47 217.76L289.13 218.1L290.56 217.37L287.91 217.03z" fill="#355e8d"/><path d="M268.87 217.97L271.51 218.47L272.98 217.64L270.34 217.14z" fill="#365d8d"/><path d="M224.31 215.17L226.92 216.1L228.44 215.04L225.84 214.11z" fill="#277f8e"/><path d="M217.57 214.3L220.17 215.29L221.71 214.2L219.11 213.21z" fill="#238a8d"/><path d="M231.05 215.93L233.66 216.8L235.18 215.77L232.57 214.91z" fill="#2a768e"/><path d="M210.83 213.33L213.43 214.39L214.97 213.27L212.38 212.21z" fill="#1f968b"/><path d="M237.79 216.6L240.41 217.41L241.91 216.41L239.3 215.61z" fill="#2e6f8e"/><path d="M204.09 212.26L206.68 213.39L208.23 212.24L205.64 211.11z" fill="#20a386"/><path d="M244.53 217.18L247.15 217.91L248.65 216.95L246.03 216.21z" fill="#30698e"/><path d="M293.22 217.67L295.89 217.95L297.31 217.25L294.65 216.97z" fill="#32648e"/><path d="M275.62 218.11L278.27 218.55L279.72 217.75L277.07 217.31z" fill="#355e8d"/><path d="M197.34 211.1L199.93 212.29L201.49 211.11L198.9 209.92z" fill="#2eb37c"/><path d="M251.27 217.65L253.9 218.32L255.39 217.39L252.76 216.72z" fill="#32648e"/><path d="M190.59 209.83L193.18 211.09L194.75 209.87L192.16 208.62z" fill="#4cc26c"/><path d="M258.02 218.02L260.65 218.63L262.13 217.73L259.5 217.12z" fill="#34618d"/><path d="M282.37 218.15L285.03 218.53L286.47 217.76L283.82 217.39z" fill="#34618d"/><path d="M299.98 217.48L302.66 217.69L304.07 217.03L301.4 216.82z" fill="#2f6b8e"/><path d="M264.76 218.3L267.4 218.84L268.87 217.97L266.24 217.43z" fill="#34608d"/><path d="M220.17 215.29L222.78 216.26L224.31 215.17L221.71 214.2z" fill="#24868e"/><path d="M226.92 216.1L229.53 217L231.05 215.93L228.44 215.04z" fill="#287c8e"/><path d="M213.43 214.39L216.03 215.42L217.57 214.3L214.97 213.27z" fill="#20928c"/><path d="M233.66 216.8L236.28 217.64L237.79 216.6L235.18 215.77z" fill="#2b748e"/><path d="M289.13 218.1L291.79 218.41L293.22 217.67L290.56 217.37z" fill="#31668e"/><path d="M206.68 213.39L209.28 214.49L210.83 213.33L208.23 212.24z" fill="#1f9e89"/><path d="M240.41 217.41L243.03 218.18L244.53 217.18L241.91 216.41z" fill="#2e6e8e"/><path d="M271.51 218.47L274.16 218.95L275.62 218.11L272.98 217.64z" fill="#34618d"/><path d="M199.93 212.29L202.53 213.46L204.09 212.26L201.49 211.11z" fill="#26ad81"/><path d="M247.15 217.91L249.78 218.62L251.27 217.65L248.65 216.95z" fill="#30698e"/><path d="M193.18 211.09L195.77 212.32L197.34 211.1L194.75 209.87z" fill="#3dbc74"/><path d="M253.9 218.32L256.53 218.96L258.02 218.02L255.39 217.39z" fill="#31668e"/><path d="M278.27 218.55L280.92 218.96L282.37 218.15L279.72 217.75z" fill="#32648e"/><path d="M295.89 217.95L298.56 218.19L299.98 217.48L297.31 217.25z" fill="#2f6c8e"/><path d="M260.65 218.63L263.29 219.2L264.76 218.3L262.13 217.73z" fill="#32648e"/><path d="M285.03 218.53L287.69 218.87L289.13 218.1L286.47 217.76z" fill="#31688e"/><path d="M222.78 216.26L225.39 217.2L226.92 216.1L224.31 215.17z" fill="#26828e"/><path d="M216.03 215.42L218.63 216.43L220.17 215.29L217.57 214.3z" fill="#228d8d"/><path d="M229.53 217L232.14 217.87L233.66 216.8L231.05 215.93z" fill="#297a8e"/><path d="M209.28 214.49L211.88 215.56L213.43 214.39L210.83 213.33z" fill="#1f998a"/><path d="M267.4 218.84L270.05 219.34L271.51 218.47L268.87 217.97z" fill="#32658e"/><path d="M302.66 217.69L305.34 217.87L306.75 217.2L304.07 217.03z" fill="#2b748e"/><path d="M236.28 217.64L238.89 218.44L240.41 217.41L237.79 216.6z" fill="#2c738e"/><path d="M202.53 213.46L205.13 214.59L206.68 213.39L204.09 212.26z" fill="#21a685"/><path d="M243.03 218.18L245.65 218.91L247.15 217.91L244.53 217.18z" fill="#2e6e8e"/><path d="M195.77 212.32L198.37 213.52L199.93 212.29L197.34 211.1z" fill="#31b57b"/><path d="M291.79 218.41L294.46 218.68L295.89 217.95L293.22 217.67z" fill="#2e6e8e"/><path d="M274.16 218.95L276.81 219.39L278.27 218.55L275.62 218.11z" fill="#31678e"/><path d="M249.78 218.62L252.41 219.29L253.9 218.32L251.27 217.65z" fill="#2f6b8e"/><path d="M189.02 211.09L191.61 212.35L193.18 211.09L190.59 209.83z" fill="#50c46a"/><path d="M256.53 218.96L259.17 219.56L260.65 218.63L258.02 218.02z" fill="#31688e"/><path d="M280.92 218.96L283.58 219.33L285.03 218.53L282.37 218.15z" fill="#306a8e"/><path d="M298.56 218.19L301.24 218.4L302.66 217.69L299.98 217.48z" fill="#2b758e"/><path d="M263.29 219.2L265.93 219.74L267.4 218.84L264.76 218.3z" fill="#31688e"/><path d="M218.63 216.43L221.24 217.4L222.78 216.26L220.17 215.29z" fill="#23898e"/><path d="M211.88 215.56L214.48 216.59L216.03 215.42L213.43 214.39z" fill="#20938c"/><path d="M225.39 217.2L228 218.1L229.53 217L226.92 216.1z" fill="#26818e"/><path d="M205.13 214.59L207.73 215.69L209.28 214.49L206.68 213.39z" fill="#1fa188"/><path d="M232.14 217.87L234.76 218.71L236.28 217.64L233.66 216.8z" fill="#29798e"/><path d="M198.37 213.52L200.97 214.69L202.53 213.46L199.93 212.29z" fill="#27ad81"/><path d="M238.89 218.44L241.52 219.21L243.03 218.18L240.41 217.41z" fill="#2c728e"/><path d="M287.69 218.87L290.35 219.18L291.79 218.41L289.13 218.1z" fill="#2d708e"/><path d="M270.05 219.34L272.7 219.82L274.16 218.95L271.51 218.47z" fill="#30698e"/><path d="M191.61 212.35L194.2 213.58L195.77 212.32L193.18 211.09z" fill="#3fbc73"/><path d="M245.65 218.91L248.28 219.62L249.78 218.62L247.15 217.91z" fill="#2e6f8e"/><path d="M305.34 217.87L308.02 218.01L309.43 217.34L306.75 217.2z" fill="#277e8e"/><path d="M252.41 219.29L255.04 219.93L256.53 218.96L253.9 218.32z" fill="#2f6c8e"/><path d="M276.81 219.39L279.47 219.8L280.92 218.96L278.27 218.55z" fill="#2f6c8e"/><path d="M294.46 218.68L297.13 218.93L298.56 218.19L295.89 217.95z" fill="#2a768e"/><path d="M259.17 219.56L261.81 220.14L263.29 219.2L260.65 218.63z" fill="#2f6b8e"/><path d="M214.48 216.59L217.09 217.6L218.63 216.43L216.03 215.42z" fill="#21908d"/><path d="M221.24 217.4L223.85 218.33L225.39 217.2L222.78 216.26z" fill="#24868e"/><path d="M207.73 215.69L210.33 216.76L211.88 215.56L209.28 214.49z" fill="#1e9b8a"/><path d="M228 218.1L230.62 218.97L232.14 217.87L229.53 217z" fill="#277e8e"/><path d="M200.97 214.69L203.57 215.82L205.13 214.59L202.53 213.46z" fill="#22a884"/><path d="M283.58 219.33L286.24 219.68L287.69 218.87L285.03 218.53z" fill="#2d718e"/><path d="M234.76 218.71L237.38 219.51L238.89 218.44L236.28 217.64z" fill="#2a788e"/><path d="M265.93 219.74L268.57 220.25L270.05 219.34L267.4 218.84z" fill="#2f6c8e"/><path d="M194.2 213.58L196.8 214.78L198.37 213.52L195.77 212.32z" fill="#32b67a"/><path d="M301.24 218.4L303.92 218.57L305.34 217.87L302.66 217.69z" fill="#277f8e"/><path d="M241.52 219.21L244.14 219.96L245.65 218.91L243.03 218.18z" fill="#2c738e"/><path d="M187.44 212.38L190.03 213.65L191.61 212.35L189.02 211.09z" fill="#50c46a"/><path d="M248.28 219.62L250.91 220.3L252.41 219.29L249.78 218.62z" fill="#2d708e"/><path d="M272.7 219.82L275.35 220.26L276.81 219.39L274.16 218.95z" fill="#2e6f8e"/><path d="M290.35 219.18L293.02 219.46L294.46 218.68L291.79 218.41z" fill="#2a778e"/><path d="M255.04 219.93L257.68 220.54L259.17 219.56L256.53 218.96z" fill="#2e6f8e"/><path d="M308.02 218.01L310.72 218.12L312.12 217.45L309.43 217.34z" fill="#23888e"/><path d="M279.47 219.8L282.13 220.18L283.58 219.33L280.92 218.96z" fill="#2c728e"/><path d="M217.09 217.6L219.7 218.57L221.24 217.4L218.63 216.43z" fill="#228c8d"/><path d="M210.33 216.76L212.94 217.8L214.48 216.59L211.88 215.56z" fill="#1f968b"/><path d="M223.85 218.33L226.47 219.24L228 218.1L225.39 217.2z" fill="#25838e"/><path d="M203.57 215.82L206.17 216.93L207.73 215.69L205.13 214.59z" fill="#1fa187"/><path d="M261.81 220.14L264.45 220.69L265.93 219.74L263.29 219.2z" fill="#2e6f8e"/><path d="M230.62 218.97L233.24 219.82L234.76 218.71L232.14 217.87z" fill="#287d8e"/><path d="M297.13 218.93L299.81 219.14L301.24 218.4L298.56 218.19z" fill="#277f8e"/><path d="M196.8 214.78L199.4 215.95L200.97 214.69L198.37 213.52z" fill="#29af7f"/><path d="M237.38 219.51L240 220.29L241.52 219.21L238.89 218.44z" fill="#2a778e"/><path d="M190.03 213.65L192.63 214.88L194.2 213.58L191.61 212.35z" fill="#3fbc73"/><path d="M268.57 220.25L271.23 220.73L272.7 219.82L270.05 219.34z" fill="#2d718e"/><path d="M286.24 219.68L288.91 219.99L290.35 219.18L287.69 218.87z" fill="#2a788e"/><path d="M244.14 219.96L246.77 220.67L248.28 219.62L245.65 218.91z" fill="#2c738e"/><path d="M250.91 220.3L253.55 220.94L255.04 219.93L252.41 219.29z" fill="#2c718e"/><path d="M303.92 218.57L306.61 218.72L308.02 218.01L305.34 217.87z" fill="#23888e"/><path d="M275.35 220.26L278.01 220.68L279.47 219.8L276.81 219.39z" fill="#2c738e"/><path d="M293.02 219.46L295.7 219.71L297.13 218.93L294.46 218.68z" fill="#277f8e"/><path d="M212.94 217.8L215.55 218.8L217.09 217.6L214.48 216.59z" fill="#20928c"/><path d="M257.68 220.54L260.32 221.12L261.81 220.14L259.17 219.56z" fill="#2c718e"/><path d="M206.17 216.93L208.77 218L210.33 216.76L207.73 215.69z" fill="#1e9d89"/><path d="M219.7 218.57L222.32 219.51L223.85 218.33L221.24 217.4z" fill="#23898e"/><path d="M199.4 215.95L202 217.09L203.57 215.82L200.97 214.69z" fill="#23a983"/><path d="M226.47 219.24L229.09 220.12L230.62 218.97L228 218.1z" fill="#26828e"/><path d="M192.63 214.88L195.23 216.09L196.8 214.78L194.2 213.58z" fill="#32b67a"/><path d="M233.24 219.82L235.86 220.63L237.38 219.51L234.76 218.71z" fill="#297b8e"/><path d="M282.13 220.18L284.79 220.52L286.24 219.68L283.58 219.33z" fill="#29798e"/><path d="M264.45 220.69L267.1 221.2L268.57 220.25L265.93 219.74z" fill="#2c728e"/><path d="M310.72 218.12L313.41 218.2L314.82 217.53L312.12 217.45z" fill="#20938c"/><path d="M185.85 213.71L188.45 214.98L190.03 213.65L187.44 212.38z" fill="#50c46a"/><path d="M240 220.29L242.63 221.04L244.14 219.96L241.52 219.21z" fill="#2a778e"/><path d="M299.81 219.14L302.5 219.32L303.92 218.57L301.24 218.4z" fill="#23888e"/><path d="M246.77 220.67L249.41 221.35L250.91 220.3L248.28 219.62z" fill="#2b748e"/><path d="M271.23 220.73L273.88 221.18L275.35 220.26L272.7 219.82z" fill="#2b758e"/><path d="M288.91 219.99L291.59 220.27L293.02 219.46L290.35 219.18z" fill="#27808e"/><path d="M253.55 220.94L256.19 221.56L257.68 220.54L255.04 219.93z" fill="#2c738e"/><path d="M208.77 218L211.38 219.04L212.94 217.8L210.33 216.76z" fill="#1f978b"/><path d="M215.55 218.8L218.16 219.78L219.7 218.57L217.09 217.6z" fill="#218e8d"/><path d="M202 217.09L204.61 218.2L206.17 216.93L203.57 215.82z" fill="#1fa287"/><path d="M222.32 219.51L224.93 220.42L226.47 219.24L223.85 218.33z" fill="#24868e"/><path d="M195.23 216.09L197.83 217.26L199.4 215.95L196.8 214.78z" fill="#29af7f"/><path d="M278.01 220.68L280.67 221.06L282.13 220.18L279.47 219.8z" fill="#297a8e"/><path d="M306.61 218.72L309.3 218.83L310.72 218.12L308.02 218.01z" fill="#20928c"/><path d="M229.09 220.12L231.71 220.96L233.24 219.82L230.62 218.97z" fill="#27808e"/><path d="M260.32 221.12L262.97 221.67L264.45 220.69L261.81 220.14z" fill="#2b748e"/><path d="M188.45 214.98L191.05 216.22L192.63 214.88L190.03 213.65z" fill="#3fbc73"/><path d="M235.86 220.63L238.49 221.41L240 220.29L237.38 219.51z" fill="#297b8e"/><path d="M295.7 219.71L298.38 219.92L299.81 219.14L297.13 218.93z" fill="#23888e"/><path d="M242.63 221.04L245.26 221.75L246.77 220.67L244.14 219.96z" fill="#2a788e"/><path d="M267.1 221.2L269.75 221.68L271.23 220.73L268.57 220.25z" fill="#2a778e"/><path d="M284.79 220.52L287.46 220.84L288.91 219.99L286.24 219.68z" fill="#27808e"/><path d="M249.41 221.35L252.05 222L253.55 220.94L250.91 220.3z" fill="#2a768e"/><path d="M313.41 218.2L316.12 218.25L317.52 217.57L314.82 217.53z" fill="#1f9f88"/><path d="M302.5 219.32L305.19 219.47L306.61 218.72L303.92 218.57z" fill="#20928c"/><path d="M211.38 219.04L214 220.05L215.55 218.8L212.94 217.8z" fill="#20938c"/><path d="M204.61 218.2L207.22 219.28L208.77 218L206.17 216.93z" fill="#1f9e89"/><path d="M273.88 221.18L276.54 221.6L278.01 220.68L275.35 220.26z" fill="#297b8e"/><path d="M218.16 219.78L220.77 220.73L222.32 219.51L219.7 218.57z" fill="#228b8d"/><path d="M197.83 217.26L200.43 218.41L202 217.09L199.4 215.95z" fill="#23a983"/><path d="M256.19 221.56L258.83 222.14L260.32 221.12L257.68 220.54z" fill="#2a768e"/><path d="M224.93 220.42L227.55 221.3L229.09 220.12L226.47 219.24z" fill="#25838e"/><path d="M191.05 216.22L193.65 217.43L195.23 216.09L192.63 214.88z" fill="#32b67a"/><path d="M291.59 220.27L294.26 220.52L295.7 219.71L293.02 219.46z" fill="#23888e"/><path d="M231.71 220.96L234.34 221.78L235.86 220.63L233.24 219.82z" fill="#277f8e"/><path d="M184.27 215.09L186.87 216.36L188.45 214.98L185.85 213.71z" fill="#4ec36b"/><path d="M238.49 221.41L241.12 222.16L242.63 221.04L240 220.29z" fill="#297b8e"/><path d="M262.97 221.67L265.62 222.19L267.1 221.2L264.45 220.69z" fill="#2a788e"/><path d="M280.67 221.06L283.34 221.41L284.79 220.52L282.13 220.18z" fill="#26818e"/><path d="M309.3 218.83L312 218.92L313.41 218.2L310.72 218.12z" fill="#1f9e89"/><path d="M245.26 221.75L247.9 222.43L249.41 221.35L246.77 220.67z" fill="#29798e"/><path d="M298.38 219.92L301.07 220.1L302.5 219.32L299.81 219.14z" fill="#20928c"/><path d="M269.75 221.68L272.41 222.13L273.88 221.18L271.23 220.73z" fill="#287c8e"/><path d="M207.22 219.28L209.83 220.32L211.38 219.04L208.77 218z" fill="#1f988b"/><path d="M252.05 222L254.69 222.61L256.19 221.56L253.55 220.94z" fill="#2a788e"/><path d="M200.43 218.41L203.04 219.52L204.61 218.2L202 217.09z" fill="#20a386"/><path d="M214 220.05L216.61 221.03L218.16 219.78L215.55 218.8z" fill="#21908d"/><path d="M287.46 220.84L290.14 221.12L291.59 220.27L288.91 219.99z" fill="#24878e"/><path d="M193.65 217.43L196.26 218.61L197.83 217.26L195.23 216.09z" fill="#29af7f"/><path d="M220.77 220.73L223.39 221.64L224.93 220.42L222.32 219.51z" fill="#23888e"/><path d="M186.87 216.36L189.47 217.6L191.05 216.22L188.45 214.98z" fill="#3fbc73"/><path d="M227.55 221.3L230.18 222.15L231.71 220.96L229.09 220.12z" fill="#26828e"/><path d="M316.12 218.25L318.83 218.26L320.23 217.58L317.52 217.57z" fill="#25ab82"/><path d="M276.54 221.6L279.21 221.98L280.67 221.06L278.01 220.68z" fill="#26818e"/><path d="M258.83 222.14L261.48 222.69L262.97 221.67L260.32 221.12z" fill="#297a8e"/><path d="M234.34 221.78L236.96 222.56L238.49 221.41L235.86 220.63z" fill="#277e8e"/><path d="M305.19 219.47L307.89 219.58L309.3 218.83L306.61 218.72z" fill="#1e9c89"/><path d="M294.26 220.52L296.95 220.74L298.38 219.92L295.7 219.71z" fill="#21918c"/><path d="M241.12 222.16L243.75 222.87L245.26 221.75L242.63 221.04z" fill="#287c8e"/><path d="M265.62 222.19L268.27 222.67L269.75 221.68L267.1 221.2z" fill="#287d8e"/><path d="M283.34 221.41L286.01 221.73L287.46 220.84L284.79 220.52z" fill="#24878e"/><path d="M247.9 222.43L250.54 223.09L252.05 222L249.41 221.35z" fill="#297b8e"/><path d="M203.04 219.52L205.65 220.6L207.22 219.28L204.61 218.2z" fill="#1f9e89"/><path d="M209.83 220.32L212.44 221.34L214 220.05L211.38 219.04z" fill="#1f948c"/><path d="M196.26 218.61L198.86 219.76L200.43 218.41L197.83 217.26z" fill="#23a983"/><path d="M216.61 221.03L219.23 221.98L220.77 220.73L218.16 219.78z" fill="#228c8d"/><path d="M189.47 217.6L192.07 218.82L193.65 217.43L191.05 216.22z" fill="#32b67a"/><path d="M312 218.92L314.71 218.97L316.12 218.25L313.41 218.2z" fill="#23a983"/><path d="M223.39 221.64L226.02 222.53L227.55 221.3L224.93 220.42z" fill="#24868e"/><path d="M272.41 222.13L275.07 222.55L276.54 221.6L273.88 221.18z" fill="#26828e"/><path d="M301.07 220.1L303.77 220.25L305.19 219.47L302.5 219.32z" fill="#1e9b8a"/><path d="M254.69 222.61L257.34 223.2L258.83 222.14L256.19 221.56z" fill="#297b8e"/><path d="M182.68 216.5L185.28 217.77L186.87 216.36L184.27 215.09z" fill="#4cc26c"/><path d="M230.18 222.15L232.81 222.97L234.34 221.78L231.71 220.96z" fill="#26828e"/><path d="M290.14 221.12L292.82 221.38L294.26 220.52L291.59 220.27z" fill="#21908d"/><path d="M236.96 222.56L239.6 223.31L241.12 222.16L238.49 221.41z" fill="#277e8e"/><path d="M261.48 222.69L264.13 223.21L265.62 222.19L262.97 221.67z" fill="#277e8e"/><path d="M279.21 221.98L281.88 222.33L283.34 221.41L280.67 221.06z" fill="#24878e"/><path d="M243.75 222.87L246.39 223.56L247.9 222.43L245.26 221.75z" fill="#287d8e"/><path d="M307.89 219.58L310.59 219.67L312 218.92L309.3 218.83z" fill="#22a785"/><path d="M205.65 220.6L208.27 221.65L209.83 220.32L207.22 219.28z" fill="#1f998a"/><path d="M198.86 219.76L201.47 220.87L203.04 219.52L200.43 218.41z" fill="#20a386"/><path d="M212.44 221.34L215.06 222.32L216.61 221.03L214 220.05z" fill="#21918c"/><path d="M296.95 220.74L299.64 220.92L301.07 220.1L298.38 219.92z" fill="#1f9a8a"/><path d="M192.07 218.82L194.68 220L196.26 218.61L193.65 217.43z" fill="#28ae80"/><path d="M268.27 222.67L270.94 223.13L272.41 222.13L269.75 221.68z" fill="#26828e"/><path d="M250.54 223.09L253.19 223.71L254.69 222.61L252.05 222z" fill="#287d8e"/><path d="M219.23 221.98L221.85 222.9L223.39 221.64L220.77 220.73z" fill="#23898e"/><path d="M185.28 217.77L187.88 219.02L189.47 217.6L186.87 216.36z" fill="#3bbb75"/><path d="M286.01 221.73L288.69 222.01L290.14 221.12L287.46 220.84z" fill="#218f8d"/><path d="M226.02 222.53L228.64 223.38L230.18 222.15L227.55 221.3z" fill="#25848e"/><path d="M232.81 222.97L235.44 223.76L236.96 222.56L234.34 221.78z" fill="#26818e"/><path d="M257.34 223.2L259.99 223.75L261.48 222.69L258.83 222.14z" fill="#277f8e"/><path d="M275.07 222.55L277.74 222.94L279.21 221.98L276.54 221.6z" fill="#24878e"/><path d="M314.71 218.97L317.42 218.98L318.83 218.26L316.12 218.25z" fill="#31b57b"/><path d="M303.77 220.25L306.47 220.37L307.89 219.58L305.19 219.47z" fill="#21a585"/><path d="M239.6 223.31L242.24 224.04L243.75 222.87L241.12 222.16z" fill="#277f8e"/><path d="M292.82 221.38L295.51 221.6L296.95 220.74L294.26 220.52z" fill="#1f988b"/><path d="M264.13 223.21L266.79 223.7L268.27 222.67L265.62 222.19z" fill="#26828e"/><path d="M201.47 220.87L204.09 221.96L205.65 220.6L203.04 219.52z" fill="#1f9e89"/><path d="M194.68 220L197.29 221.15L198.86 219.76L196.26 218.61z" fill="#22a884"/><path d="M208.27 221.65L210.88 222.67L212.44 221.34L209.83 220.32z" fill="#1f948c"/><path d="M246.39 223.56L249.03 224.22L250.54 223.09L247.9 222.43z" fill="#277e8e"/><path d="M281.88 222.33L284.56 222.65L286.01 221.73L283.34 221.41z" fill="#218f8d"/><path d="M187.88 219.02L190.49 220.24L192.07 218.82L189.47 217.6z" fill="#2fb47c"/><path d="M215.06 222.32L217.68 223.28L219.23 221.98L216.61 221.03z" fill="#228d8d"/><path d="M181.08 217.95L183.69 219.23L185.28 217.77L182.68 216.5z" fill="#48c16e"/><path d="M221.85 222.9L224.48 223.79L226.02 222.53L223.39 221.64z" fill="#24878e"/><path d="M253.19 223.71L255.84 224.3L257.34 223.2L254.69 222.61z" fill="#27808e"/><path d="M270.94 223.13L273.6 223.55L275.07 222.55L272.41 222.13z" fill="#24878e"/><path d="M228.64 223.38L231.28 224.2L232.81 222.97L230.18 222.15z" fill="#25838e"/><path d="M310.59 219.67L313.3 219.72L314.71 218.97L312 218.92z" fill="#2db27d"/><path d="M299.64 220.92L302.34 221.08L303.77 220.25L301.07 220.1z" fill="#20a386"/><path d="M235.44 223.76L238.07 224.51L239.6 223.31L236.96 222.56z" fill="#26818e"/><path d="M288.69 222.01L291.38 222.27L292.82 221.38L290.14 221.12z" fill="#1f978b"/><path d="M259.99 223.75L262.64 224.28L264.13 223.21L261.48 222.69z" fill="#26828e"/><path d="M277.74 222.94L280.42 223.3L281.88 222.33L279.21 221.98z" fill="#218e8d"/><path d="M242.24 224.04L244.88 224.73L246.39 223.56L243.75 222.87z" fill="#27808e"/><path d="M197.29 221.15L199.9 222.27L201.47 220.87L198.86 219.76z" fill="#1fa287"/><path d="M204.09 221.96L206.7 223.01L208.27 221.65L205.65 220.6z" fill="#1f998a"/><path d="M190.49 220.24L193.1 221.42L194.68 220L192.07 218.82z" fill="#27ad81"/><path d="M210.88 222.67L213.5 223.65L215.06 222.32L212.44 221.34z" fill="#21918c"/><path d="M183.69 219.23L186.3 220.48L187.88 219.02L185.28 217.77z" fill="#38b977"/><path d="M217.68 223.28L220.3 224.2L221.85 222.9L219.23 221.98z" fill="#238a8d"/><path d="M306.47 220.37L309.17 220.46L310.59 219.67L307.89 219.58z" fill="#2ab07f"/><path d="M266.79 223.7L269.46 224.16L270.94 223.13L268.27 222.67z" fill="#24878e"/><path d="M249.03 224.22L251.68 224.84L253.19 223.71L250.54 223.09z" fill="#26818e"/><path d="M295.51 221.6L298.2 221.78L299.64 220.92L296.95 220.74z" fill="#1fa187"/><path d="M224.48 223.79L227.11 224.64L228.64 223.38L226.02 222.53z" fill="#25858e"/><path d="M284.56 222.65L287.24 222.94L288.69 222.01L286.01 221.73z" fill="#1f968b"/><path d="M231.28 224.2L233.91 224.99L235.44 223.76L232.81 222.97z" fill="#26828e"/><path d="M255.84 224.3L258.49 224.85L259.99 223.75L257.34 223.2z" fill="#26828e"/><path d="M273.6 223.55L276.27 223.94L277.74 222.94L275.07 222.55z" fill="#228d8d"/><path d="M238.07 224.51L240.71 225.24L242.24 224.04L239.6 223.31z" fill="#26818e"/><path d="M313.3 219.72L316.01 219.74L317.42 218.98L314.71 218.97z" fill="#40bd72"/><path d="M199.9 222.27L202.52 223.35L204.09 221.96L201.47 220.87z" fill="#1e9d89"/><path d="M193.1 221.42L195.71 222.58L197.29 221.15L194.68 220z" fill="#22a785"/><path d="M302.34 221.08L305.04 221.2L306.47 220.37L303.77 220.25z" fill="#27ad81"/><path d="M206.7 223.01L209.32 224.03L210.88 222.67L208.27 221.65z" fill="#1f948c"/><path d="M186.3 220.48L188.9 221.7L190.49 220.24L187.88 219.02z" fill="#2db27d"/><path d="M262.64 224.28L265.31 224.77L266.79 223.7L264.13 223.21z" fill="#24868e"/><path d="M291.38 222.27L294.07 222.49L295.51 221.6L292.82 221.38z" fill="#1fa088"/><path d="M213.5 223.65L216.13 224.61L217.68 223.28L215.06 222.32z" fill="#218e8d"/><path d="M244.88 224.73L247.52 225.38L249.03 224.22L246.39 223.56z" fill="#26828e"/><path d="M179.49 219.44L182.09 220.72L183.69 219.23L181.08 217.95z" fill="#44bf70"/><path d="M220.3 224.2L222.93 225.09L224.48 223.79L221.85 222.9z" fill="#23888e"/><path d="M280.42 223.3L283.1 223.62L284.56 222.65L281.88 222.33z" fill="#1f948c"/><path d="M227.11 224.64L229.74 225.47L231.28 224.2L228.64 223.38z" fill="#25848e"/><path d="M251.68 224.84L254.33 225.43L255.84 224.3L253.19 223.71z" fill="#25838e"/><path d="M269.46 224.16L272.12 224.58L273.6 223.55L270.94 223.13z" fill="#228c8d"/><path d="M233.91 224.99L236.55 225.75L238.07 224.51L235.44 223.76z" fill="#26828e"/><path d="M309.17 220.46L311.88 220.51L313.3 219.72L310.59 219.67z" fill="#3bbb75"/><path d="M298.2 221.78L300.9 221.94L302.34 221.08L299.64 220.92z" fill="#25ac82"/><path d="M287.24 222.94L289.92 223.2L291.38 222.27L288.69 222.01z" fill="#1f9e89"/><path d="M258.49 224.85L261.15 225.38L262.64 224.28L259.99 223.75z" fill="#24868e"/><path d="M195.71 222.58L198.33 223.7L199.9 222.27L197.29 221.15z" fill="#1fa188"/><path d="M188.9 221.7L191.52 222.89L193.1 221.42L190.49 220.24z" fill="#25ac82"/><path d="M202.52 223.35L205.14 224.41L206.7 223.01L204.09 221.96z" fill="#1f988b"/><path d="M240.71 225.24L243.36 225.93L244.88 224.73L242.24 224.04z" fill="#26828e"/><path d="M182.09 220.72L184.7 221.98L186.3 220.48L183.69 219.23z" fill="#35b779"/><path d="M209.32 224.03L211.94 225.02L213.5 223.65L210.88 222.67z" fill="#21918c"/><path d="M276.27 223.94L278.95 224.3L280.42 223.3L277.74 222.94z" fill="#20938c"/><path d="M216.13 224.61L218.75 225.54L220.3 224.2L217.68 223.28z" fill="#228b8d"/><path d="M247.52 225.38L250.17 226.01L251.68 224.84L249.03 224.22z" fill="#25838e"/><path d="M222.93 225.09L225.56 225.95L227.11 224.64L224.48 223.79z" fill="#24868e"/><path d="M265.31 224.77L267.97 225.23L269.46 224.16L266.79 223.7z" fill="#228c8d"/><path d="M305.04 221.2L307.75 221.29L309.17 220.46L306.47 220.37z" fill="#37b878"/><path d="M294.07 222.49L296.76 222.68L298.2 221.78L295.51 221.6z" fill="#23a983"/><path d="M229.74 225.47L232.38 226.26L233.91 224.99L231.28 224.2z" fill="#25838e"/><path d="M283.1 223.62L285.78 223.91L287.24 222.94L284.56 222.65z" fill="#1e9c89"/><path d="M254.33 225.43L256.99 225.99L258.49 224.85L255.84 224.3z" fill="#24868e"/><path d="M236.55 225.75L239.19 226.48L240.71 225.24L238.07 224.51z" fill="#26828e"/><path d="M272.12 224.58L274.8 224.97L276.27 223.94L273.6 223.55z" fill="#20928c"/><path d="M191.52 222.89L194.13 224.05L195.71 222.58L193.1 221.42z" fill="#21a585"/><path d="M198.33 223.7L200.94 224.79L202.52 223.35L199.9 222.27z" fill="#1e9b8a"/><path d="M184.7 221.98L187.32 223.2L188.9 221.7L186.3 220.48z" fill="#2ab07f"/><path d="M205.14 224.41L207.76 225.44L209.32 224.03L206.7 223.01z" fill="#20938c"/><path d="M177.89 220.97L180.5 222.26L182.09 220.72L179.49 219.44z" fill="#3dbc74"/><path d="M211.94 225.02L214.57 225.98L216.13 224.61L213.5 223.65z" fill="#228d8d"/><path d="M261.15 225.38L263.81 225.87L265.31 224.77L262.64 224.28z" fill="#228b8d"/><path d="M243.36 225.93L246.01 226.59L247.52 225.38L244.88 224.73z" fill="#25838e"/><path d="M300.9 221.94L303.61 222.06L305.04 221.2L302.34 221.08z" fill="#32b67a"/><path d="M311.88 220.51L314.6 220.53L316.01 219.74L313.3 219.72z" fill="#52c569"/><path d="M218.75 225.54L221.38 226.43L222.93 225.09L220.3 224.2z" fill="#23888e"/><path d="M289.92 223.2L292.62 223.43L294.07 222.49L291.38 222.27z" fill="#22a785"/><path d="M278.95 224.3L281.63 224.62L283.1 223.62L280.42 223.3z" fill="#1f9a8a"/><path d="M225.56 225.95L228.2 226.78L229.74 225.47L227.11 224.64z" fill="#25858e"/><path d="M250.17 226.01L252.83 226.61L254.33 225.43L251.68 224.84z" fill="#24868e"/><path d="M267.97 225.23L270.64 225.65L272.12 224.58L269.46 224.16z" fill="#21918c"/><path d="M232.38 226.26L235.02 227.03L236.55 225.75L233.91 224.99z" fill="#25838e"/><path d="M194.13 224.05L196.75 225.17L198.33 223.7L195.71 222.58z" fill="#1f9f88"/><path d="M187.32 223.2L189.93 224.39L191.52 222.89L188.9 221.7z" fill="#23a983"/><path d="M200.94 224.79L203.56 225.85L205.14 224.41L202.52 223.35z" fill="#1f968b"/><path d="M180.5 222.26L183.11 223.52L184.7 221.98L182.09 220.72z" fill="#31b57b"/><path d="M307.75 221.29L310.46 221.34L311.88 220.51L309.17 220.46z" fill="#4cc26c"/><path d="M296.76 222.68L299.46 222.84L300.9 221.94L298.2 221.78z" fill="#2db27d"/><path d="M256.99 225.99L259.65 226.52L261.15 225.38L258.49 224.85z" fill="#238a8d"/><path d="M207.76 225.44L210.38 226.43L211.94 225.02L209.32 224.03z" fill="#21908d"/><path d="M239.19 226.48L241.84 227.17L243.36 225.93L240.71 225.24z" fill="#25848e"/><path d="M285.78 223.91L288.47 224.17L289.92 223.2L287.24 222.94z" fill="#20a486"/><path d="M214.57 225.98L217.2 226.91L218.75 225.54L216.13 224.61z" fill="#238a8d"/><path d="M274.8 224.97L277.48 225.34L278.95 224.3L276.27 223.94z" fill="#1f998a"/><path d="M221.38 226.43L224.02 227.29L225.56 225.95L222.93 225.09z" fill="#24868e"/><path d="M246.01 226.59L248.66 227.22L250.17 226.01L247.52 225.38z" fill="#25858e"/><path d="M263.81 225.87L266.48 226.34L267.97 225.23L265.31 224.77z" fill="#21908d"/><path d="M228.2 226.78L230.84 227.57L232.38 226.26L229.74 225.47z" fill="#25848e"/><path d="M303.61 222.06L306.32 222.15L307.75 221.29L305.04 221.2z" fill="#44bf70"/><path d="M292.62 223.43L295.32 223.62L296.76 222.68L294.07 222.49z" fill="#29af7f"/><path d="M252.83 226.61L255.49 227.17L256.99 225.99L254.33 225.43z" fill="#23898e"/><path d="M189.93 224.39L192.55 225.56L194.13 224.05L191.52 222.89z" fill="#1fa287"/><path d="M281.63 224.62L284.32 224.92L285.78 223.91L283.1 223.62z" fill="#1fa187"/><path d="M183.11 223.52L185.72 224.74L187.32 223.2L184.7 221.98z" fill="#26ad81"/><path d="M196.75 225.17L199.37 226.27L200.94 224.79L198.33 223.7z" fill="#1f998a"/><path d="M235.02 227.03L237.66 227.76L239.19 226.48L236.55 225.75z" fill="#25848e"/><path d="M176.29 222.54L178.9 223.83L180.5 222.26L177.89 220.97z" fill="#37b878"/><path d="M203.56 225.85L206.19 226.88L207.76 225.44L205.14 224.41z" fill="#20928c"/><path d="M270.64 225.65L273.32 226.05L274.8 224.97L272.12 224.58z" fill="#1f978b"/><path d="M210.38 226.43L213.01 227.4L214.57 225.98L211.94 225.02z" fill="#228c8d"/><path d="M217.2 226.91L219.83 227.81L221.38 226.43L218.75 225.54z" fill="#23888e"/><path d="M241.84 227.17L244.49 227.84L246.01 226.59L243.36 225.93z" fill="#25858e"/><path d="M259.65 226.52L262.32 227.02L263.81 225.87L261.15 225.38z" fill="#218e8d"/><path d="M299.46 222.84L302.17 222.97L303.61 222.06L300.9 221.94z" fill="#3dbc74"/><path d="M224.02 227.29L226.66 228.13L228.2 226.78L225.56 225.95z" fill="#25858e"/><path d="M288.47 224.17L291.16 224.4L292.62 223.43L289.92 223.2z" fill="#26ad81"/><path d="M310.46 221.34L313.18 221.37L314.6 220.53L311.88 220.51z" fill="#65cb5e"/><path d="M277.48 225.34L280.16 225.67L281.63 224.62L278.95 224.3z" fill="#1fa088"/><path d="M248.66 227.22L251.32 227.82L252.83 226.61L250.17 226.01z" fill="#23888e"/><path d="M230.84 227.57L233.48 228.34L235.02 227.03L232.38 226.26z" fill="#25848e"/><path d="M185.72 224.74L188.34 225.94L189.93 224.39L187.32 223.2z" fill="#21a685"/><path d="M192.55 225.56L195.16 226.69L196.75 225.17L194.13 224.05z" fill="#1e9d89"/><path d="M266.48 226.34L269.15 226.77L270.64 225.65L267.97 225.23z" fill="#1f958b"/><path d="M178.9 223.83L181.51 225.09L183.11 223.52L180.5 222.26z" fill="#2cb17e"/><path d="M199.37 226.27L201.99 227.33L203.56 225.85L200.94 224.79z" fill="#1f948c"/><path d="M206.19 226.88L208.82 227.88L210.38 226.43L207.76 225.44z" fill="#218e8d"/><path d="M237.66 227.76L240.31 228.46L241.84 227.17L239.19 226.48z" fill="#25858e"/><path d="M255.49 227.17L258.15 227.7L259.65 226.52L256.99 225.99z" fill="#228d8d"/><path d="M213.01 227.4L215.64 228.33L217.2 226.91L214.57 225.98z" fill="#23898e"/><path d="M295.32 223.62L298.02 223.78L299.46 222.84L296.76 222.68z" fill="#38b977"/><path d="M306.32 222.15L309.03 222.21L310.46 221.34L307.75 221.29z" fill="#5cc863"/><path d="M284.32 224.92L287.01 225.18L288.47 224.17L285.78 223.91z" fill="#24aa83"/><path d="M219.83 227.81L222.47 228.68L224.02 227.29L221.38 226.43z" fill="#24868e"/><path d="M273.32 226.05L276 226.41L277.48 225.34L274.8 224.97z" fill="#1e9d89"/><path d="M244.49 227.84L247.14 228.47L248.66 227.22L246.01 226.59z" fill="#24878e"/><path d="M262.32 227.02L264.99 227.48L266.48 226.34L263.81 225.87z" fill="#20938c"/><path d="M226.66 228.13L229.3 228.93L230.84 227.57L228.2 226.78z" fill="#25848e"/><path d="M188.34 225.94L190.96 227.11L192.55 225.56L189.93 224.39z" fill="#1fa088"/><path d="M181.51 225.09L184.13 226.33L185.72 224.74L183.11 223.52z" fill="#24aa83"/><path d="M195.16 226.69L197.79 227.79L199.37 226.27L196.75 225.17z" fill="#1f978b"/><path d="M174.68 224.15L177.29 225.44L178.9 223.83L176.29 222.54z" fill="#31b57b"/><path d="M201.99 227.33L204.62 228.37L206.19 226.88L203.56 225.85z" fill="#21908d"/><path d="M251.32 227.82L253.98 228.39L255.49 227.17L252.83 226.61z" fill="#228c8d"/><path d="M233.48 228.34L236.13 229.07L237.66 227.76L235.02 227.03z" fill="#25858e"/><path d="M291.16 224.4L293.86 224.59L295.32 223.62L292.62 223.43z" fill="#32b67a"/><path d="M302.17 222.97L304.88 223.06L306.32 222.15L303.61 222.06z" fill="#54c568"/><path d="M280.16 225.67L282.85 225.96L284.32 224.92L281.63 224.62z" fill="#22a785"/><path d="M208.82 227.88L211.45 228.85L213.01 227.4L210.38 226.43z" fill="#228b8d"/><path d="M269.15 226.77L271.83 227.17L273.32 226.05L270.64 225.65z" fill="#1e9b8a"/><path d="M215.64 228.33L218.28 229.23L219.83 227.81L217.2 226.91z" fill="#24878e"/><path d="M240.31 228.46L242.96 229.12L244.49 227.84L241.84 227.17z" fill="#24878e"/><path d="M258.15 227.7L260.82 228.2L262.32 227.02L259.65 226.52z" fill="#20928c"/><path d="M222.47 228.68L225.11 229.51L226.66 228.13L224.02 227.29z" fill="#25858e"/><path d="M298.02 223.78L300.73 223.91L302.17 222.97L299.46 222.84z" fill="#4cc26c"/><path d="M287.01 225.18L289.71 225.41L291.16 224.4L288.47 224.17z" fill="#2db27d"/><path d="M184.13 226.33L186.74 227.53L188.34 225.94L185.72 224.74z" fill="#1fa287"/><path d="M177.29 225.44L179.91 226.71L181.51 225.09L178.9 223.83z" fill="#26ad81"/><path d="M190.96 227.11L193.58 228.24L195.16 226.69L192.55 225.56z" fill="#1f998a"/><path d="M247.14 228.47L249.8 229.07L251.32 227.82L248.66 227.22z" fill="#238a8d"/><path d="M309.03 222.21L311.76 222.24L313.18 221.37L310.46 221.34z" fill="#7ad151"/><path d="M276 226.41L278.68 226.75L280.16 225.67L277.48 225.34z" fill="#20a486"/><path d="M229.3 228.93L231.94 229.7L233.48 228.34L230.84 227.57z" fill="#25848e"/><path d="M197.79 227.79L200.41 228.86L201.99 227.33L199.37 226.27z" fill="#20928c"/><path d="M204.62 228.37L207.25 229.37L208.82 227.88L206.19 226.88z" fill="#228c8d"/><path d="M264.99 227.48L267.66 227.92L269.15 226.77L266.48 226.34z" fill="#1f988b"/><path d="M211.45 228.85L214.08 229.79L215.64 228.33L213.01 227.4z" fill="#23888e"/><path d="M236.13 229.07L238.78 229.78L240.31 228.46L237.66 227.76z" fill="#24868e"/><path d="M253.98 228.39L256.64 228.92L258.15 227.7L255.49 227.17z" fill="#218f8d"/><path d="M218.28 229.23L220.91 230.1L222.47 228.68L219.83 227.81z" fill="#25858e"/><path d="M293.86 224.59L296.57 224.76L298.02 223.78L295.32 223.62z" fill="#42be71"/><path d="M282.85 225.96L285.54 226.23L287.01 225.18L284.32 224.92z" fill="#28ae80"/><path d="M304.88 223.06L307.6 223.12L309.03 222.21L306.32 222.15z" fill="#6ece58"/><path d="M271.83 227.17L274.52 227.53L276 226.41L273.32 226.05z" fill="#1fa187"/><path d="M242.96 229.12L245.62 229.76L247.14 228.47L244.49 227.84z" fill="#23898e"/><path d="M225.11 229.51L227.75 230.32L229.3 228.93L226.66 228.13z" fill="#25848e"/><path d="M179.91 226.71L182.53 227.95L184.13 226.33L181.51 225.09z" fill="#21a585"/><path d="M186.74 227.53L189.37 228.7L190.96 227.11L188.34 225.94z" fill="#1e9c89"/><path d="M173.07 225.8L175.69 227.1L177.29 225.44L174.68 224.15z" fill="#2ab07f"/><path d="M193.58 228.24L196.2 229.34L197.79 227.79L195.16 226.69z" fill="#20938c"/><path d="M260.82 228.2L263.49 228.67L264.99 227.48L262.32 227.02z" fill="#1f968b"/><path d="M200.41 228.86L203.04 229.89L204.62 228.37L201.99 227.33z" fill="#218e8d"/><path d="M231.94 229.7L234.59 230.43L236.13 229.07L233.48 228.34z" fill="#25858e"/><path d="M207.25 229.37L209.88 230.34L211.45 228.85L208.82 227.88z" fill="#23898e"/><path d="M249.8 229.07L252.46 229.64L253.98 228.39L251.32 227.82z" fill="#228d8d"/><path d="M289.71 225.41L292.41 225.61L293.86 224.59L291.16 224.4z" fill="#3bbb75"/><path d="M278.68 226.75L281.38 227.05L282.85 225.96L280.16 225.67z" fill="#25ac82"/><path d="M300.73 223.91L303.44 224L304.88 223.06L302.17 222.97z" fill="#63cb5f"/><path d="M214.08 229.79L216.72 230.69L218.28 229.23L215.64 228.33z" fill="#25858e"/><path d="M267.66 227.92L270.34 228.32L271.83 227.17L269.15 226.77z" fill="#1f9e89"/><path d="M238.78 229.78L241.43 230.45L242.96 229.12L240.31 228.46z" fill="#24878e"/><path d="M220.91 230.1L223.56 230.94L225.11 229.51L222.47 228.68z" fill="#25848e"/><path d="M256.64 228.92L259.31 229.43L260.82 228.2L258.15 227.7z" fill="#20938c"/><path d="M182.53 227.95L185.15 229.15L186.74 227.53L184.13 226.33z" fill="#1f9e89"/><path d="M175.69 227.1L178.3 228.37L179.91 226.71L177.29 225.44z" fill="#22a884"/><path d="M189.37 228.7L191.99 229.83L193.58 228.24L190.96 227.11z" fill="#1f958b"/><path d="M196.2 229.34L198.83 230.42L200.41 228.86L197.79 227.79z" fill="#218f8d"/><path d="M245.62 229.76L248.28 230.37L249.8 229.07L247.14 228.47z" fill="#228b8d"/><path d="M227.75 230.32L230.4 231.09L231.94 229.7L229.3 228.93z" fill="#25848e"/><path d="M285.54 226.23L288.24 226.46L289.71 225.41L287.01 225.18z" fill="#35b779"/><path d="M203.04 229.89L205.67 230.9L207.25 229.37L204.62 228.37z" fill="#23898e"/><path d="M296.57 224.76L299.28 224.89L300.73 223.91L298.02 223.78z" fill="#58c765"/><path d="M274.52 227.53L277.2 227.87L278.68 226.75L276 226.41z" fill="#22a884"/><path d="M307.6 223.12L310.33 223.15L311.76 222.24L309.03 222.21z" fill="#8bd646"/><path d="M263.49 228.67L266.17 229.11L267.66 227.92L264.99 227.48z" fill="#1e9b8a"/><path d="M209.88 230.34L212.51 231.28L214.08 229.79L211.45 228.85z" fill="#25858e"/><path d="M234.59 230.43L237.24 231.14L238.78 229.78L236.13 229.07z" fill="#24868e"/><path d="M252.46 229.64L255.13 230.18L256.64 228.92L253.98 228.39z" fill="#21918c"/><path d="M216.72 230.69L219.36 231.57L220.91 230.1L218.28 229.23z" fill="#25838e"/><path d="M178.3 228.37L180.92 229.61L182.53 227.95L179.91 226.71z" fill="#1fa188"/><path d="M171.46 227.49L174.08 228.79L175.69 227.1L173.07 225.8z" fill="#25ab82"/><path d="M185.15 229.15L187.77 230.32L189.37 228.7L186.74 227.53z" fill="#1f978b"/><path d="M241.43 230.45L244.09 231.09L245.62 229.76L242.96 229.12z" fill="#23898e"/><path d="M281.38 227.05L284.07 227.32L285.54 226.23L282.85 225.96z" fill="#2eb37c"/><path d="M292.41 225.61L295.12 225.77L296.57 224.76L293.86 224.59z" fill="#4ec36b"/><path d="M191.99 229.83L194.62 230.94L196.2 229.34L193.58 228.24z" fill="#21908d"/><path d="M223.56 230.94L226.2 231.75L227.75 230.32L225.11 229.51z" fill="#25838e"/><path d="M270.34 228.32L273.03 228.69L274.52 227.53L271.83 227.17z" fill="#20a486"/><path d="M303.44 224L306.17 224.07L307.6 223.12L304.88 223.06z" fill="#7fd34e"/><path d="M198.83 230.42L201.46 231.46L203.04 229.89L200.41 228.86z" fill="#238a8d"/><path d="M259.31 229.43L261.99 229.9L263.49 228.67L260.82 228.2z" fill="#1f988b"/><path d="M205.67 230.9L208.31 231.87L209.88 230.34L207.25 229.37z" fill="#24868e"/><path d="M230.4 231.09L233.05 231.83L234.59 230.43L231.94 229.7z" fill="#25848e"/><path d="M248.28 230.37L250.95 230.94L252.46 229.64L249.8 229.07z" fill="#218f8d"/><path d="M212.51 231.28L215.15 232.19L216.72 230.69L214.08 229.79z" fill="#25838e"/><path d="M288.24 226.46L290.95 226.66L292.41 225.61L289.71 225.41z" fill="#44bf70"/><path d="M277.2 227.87L279.9 228.17L281.38 227.05L278.68 226.75z" fill="#29af7f"/><path d="M237.24 231.14L239.9 231.81L241.43 230.45L238.78 229.78z" fill="#24878e"/><path d="M299.28 224.89L302 224.99L303.44 224L300.73 223.91z" fill="#73d056"/><path d="M266.17 229.11L268.85 229.51L270.34 228.32L267.66 227.92z" fill="#1fa188"/><path d="M174.08 228.79L176.7 230.07L178.3 228.37L175.69 227.1z" fill="#1fa287"/><path d="M219.36 231.57L222 232.41L223.56 230.94L220.91 230.1z" fill="#26828e"/><path d="M180.92 229.61L183.55 230.82L185.15 229.15L182.53 227.95z" fill="#1f998a"/><path d="M187.77 230.32L190.4 231.47L191.99 229.83L189.37 228.7z" fill="#20928c"/><path d="M255.13 230.18L257.8 230.69L259.31 229.43L256.64 228.92z" fill="#1f958b"/><path d="M194.62 230.94L197.25 232.02L198.83 230.42L196.2 229.34z" fill="#228b8d"/><path d="M226.2 231.75L228.85 232.52L230.4 231.09L227.75 230.32z" fill="#25838e"/><path d="M201.46 231.46L204.1 232.47L205.67 230.9L203.04 229.89z" fill="#24868e"/><path d="M244.09 231.09L246.76 231.7L248.28 230.37L245.62 229.76z" fill="#228c8d"/><path d="M208.31 231.87L210.95 232.82L212.51 231.28L209.88 230.34z" fill="#25838e"/><path d="M284.07 227.32L286.77 227.55L288.24 226.46L285.54 226.23z" fill="#3bbb75"/><path d="M273.03 228.69L275.72 229.03L277.2 227.87L274.52 227.53z" fill="#25ac82"/><path d="M295.12 225.77L297.83 225.91L299.28 224.89L296.57 224.76z" fill="#65cb5e"/><path d="M261.99 229.9L264.67 230.34L266.17 229.11L263.49 228.67z" fill="#1f9e89"/><path d="M233.05 231.83L235.71 232.54L237.24 231.14L234.59 230.43z" fill="#25858e"/><path d="M306.17 224.07L308.89 224.1L310.33 223.15L307.6 223.12z" fill="#a0da39"/><path d="M215.15 232.19L217.8 233.07L219.36 231.57L216.72 230.69z" fill="#26828e"/><path d="M250.95 230.94L253.62 231.48L255.13 230.18L252.46 229.64z" fill="#20928c"/><path d="M176.7 230.07L179.32 231.31L180.92 229.61L178.3 228.37z" fill="#1e9b8a"/><path d="M169.84 229.22L172.46 230.53L174.08 228.79L171.46 227.49z" fill="#21a585"/><path d="M183.55 230.82L186.17 231.99L187.77 230.32L185.15 229.15z" fill="#20928c"/><path d="M190.4 231.47L193.03 232.58L194.62 230.94L191.99 229.83z" fill="#228c8d"/><path d="M222 232.41L224.65 233.22L226.2 231.75L223.56 230.94z" fill="#26828e"/><path d="M239.9 231.81L242.56 232.46L244.09 231.09L241.43 230.45z" fill="#23898e"/><path d="M197.25 232.02L199.88 233.06L201.46 231.46L198.83 230.42z" fill="#24868e"/><path d="M279.9 228.17L282.6 228.44L284.07 227.32L281.38 227.05z" fill="#34b679"/><path d="M268.85 229.51L271.54 229.89L273.03 228.69L270.34 228.32z" fill="#22a785"/><path d="M290.95 226.66L293.66 226.83L295.12 225.77L292.41 225.61z" fill="#5ac864"/><path d="M204.1 232.47L206.73 233.45L208.31 231.87L205.67 230.9z" fill="#26828e"/><path d="M257.8 230.69L260.48 231.16L261.99 229.9L259.31 229.43z" fill="#1f9a8a"/><path d="M302 224.99L304.72 225.05L306.17 224.07L303.44 224z" fill="#90d743"/><path d="M228.85 232.52L231.51 233.27L233.05 231.83L230.4 231.09z" fill="#25838e"/><path d="M246.76 231.7L249.42 232.27L250.95 230.94L248.28 230.37z" fill="#218f8d"/><path d="M210.95 232.82L213.59 233.73L215.15 232.19L212.51 231.28z" fill="#26818e"/><path d="M172.46 230.53L175.09 231.8L176.7 230.07L174.08 228.79z" fill="#1e9d89"/><path d="M179.32 231.31L181.94 232.52L183.55 230.82L180.92 229.61z" fill="#20938c"/><path d="M235.71 232.54L238.37 233.22L239.9 231.81L237.24 231.14z" fill="#24878e"/><path d="M186.17 231.99L188.8 233.14L190.4 231.47L187.77 230.32z" fill="#228d8d"/><path d="M217.8 233.07L220.44 233.91L222 232.41L219.36 231.57z" fill="#26818e"/><path d="M275.72 229.03L278.42 229.33L279.9 228.17L277.2 227.87z" fill="#2db27d"/><path d="M286.77 227.55L289.48 227.75L290.95 226.66L288.24 226.46z" fill="#4ec36b"/><path d="M264.67 230.34L267.35 230.75L268.85 229.51L266.17 229.11z" fill="#20a386"/><path d="M193.03 232.58L195.66 233.66L197.25 232.02L194.62 230.94z" fill="#24868e"/><path d="M297.83 225.91L300.55 226.01L302 224.99L299.28 224.89z" fill="#7fd34e"/><path d="M253.62 231.48L256.29 231.99L257.8 230.69L255.13 230.18z" fill="#1f968b"/><path d="M199.88 233.06L202.51 234.08L204.1 232.47L201.46 231.46z" fill="#26828e"/><path d="M224.65 233.22L227.3 234L228.85 232.52L226.2 231.75z" fill="#26828e"/><path d="M242.56 232.46L245.23 233.07L246.76 231.7L244.09 231.09z" fill="#228c8d"/><path d="M206.73 233.45L209.37 234.39L210.95 232.82L208.31 231.87z" fill="#27808e"/><path d="M271.54 229.89L274.23 230.23L275.72 229.03L273.03 228.69z" fill="#28ae80"/><path d="M231.51 233.27L234.16 233.98L235.71 232.54L233.05 231.83z" fill="#25848e"/><path d="M282.6 228.44L285.3 228.68L286.77 227.55L284.07 227.32z" fill="#42be71"/><path d="M168.23 230.99L170.85 232.3L172.46 230.53L169.84 229.22z" fill="#1f9f88"/><path d="M175.09 231.8L177.71 233.05L179.32 231.31L176.7 230.07z" fill="#1f958b"/><path d="M213.59 233.73L216.23 234.61L217.8 233.07L215.15 232.19z" fill="#277f8e"/><path d="M260.48 231.16L263.16 231.61L264.67 230.34L261.99 229.9z" fill="#1f9f88"/><path d="M181.94 232.52L184.57 233.7L186.17 231.99L183.55 230.82z" fill="#228d8d"/><path d="M293.66 226.83L296.38 226.97L297.83 225.91L295.12 225.77z" fill="#70cf57"/><path d="M249.42 232.27L252.1 232.82L253.62 231.48L250.95 230.94z" fill="#20928c"/><path d="M188.8 233.14L191.43 234.26L193.03 232.58L190.4 231.47z" fill="#24878e"/><path d="M304.72 225.05L307.45 225.09L308.89 224.1L306.17 224.07z" fill="#b0dd2f"/><path d="M195.66 233.66L198.29 234.71L199.88 233.06L197.25 232.02z" fill="#26828e"/><path d="M220.44 233.91L223.09 234.73L224.65 233.22L222 232.41z" fill="#27808e"/><path d="M238.37 233.22L241.03 233.87L242.56 232.46L239.9 231.81z" fill="#23898e"/><path d="M202.51 234.08L205.15 235.06L206.73 233.45L204.1 232.47z" fill="#277f8e"/><path d="M267.35 230.75L270.04 231.12L271.54 229.89L268.85 229.51z" fill="#24aa83"/><path d="M278.42 229.33L281.12 229.61L282.6 228.44L279.9 228.17z" fill="#3aba76"/><path d="M227.3 234L229.96 234.75L231.51 233.27L228.85 232.52z" fill="#26828e"/><path d="M256.29 231.99L258.97 232.47L260.48 231.16L257.8 230.69z" fill="#1e9b8a"/><path d="M289.48 227.75L292.2 227.93L293.66 226.83L290.95 226.66z" fill="#63cb5f"/><path d="M209.37 234.39L212.02 235.31L213.59 233.73L210.95 232.82z" fill="#277e8e"/><path d="M170.85 232.3L173.47 233.58L175.09 231.8L172.46 230.53z" fill="#1f968b"/><path d="M245.23 233.07L247.9 233.65L249.42 232.27L246.76 231.7z" fill="#218f8d"/><path d="M300.55 226.01L303.28 226.08L304.72 225.05L302 224.99z" fill="#9dd93b"/><path d="M177.71 233.05L180.34 234.27L181.94 232.52L179.32 231.31z" fill="#218e8d"/><path d="M184.57 233.7L187.2 234.85L188.8 233.14L186.17 231.99z" fill="#24878e"/><path d="M216.23 234.61L218.88 235.46L220.44 233.91L217.8 233.07z" fill="#277e8e"/><path d="M234.16 233.98L236.82 234.66L238.37 233.22L235.71 232.54z" fill="#24868e"/><path d="M191.43 234.26L194.07 235.34L195.66 233.66L193.03 232.58z" fill="#26828e"/><path d="M274.23 230.23L276.93 230.54L278.42 229.33L275.72 229.03z" fill="#31b57b"/><path d="M263.16 231.61L265.85 232.02L267.35 230.75L264.67 230.34z" fill="#21a585"/><path d="M198.29 234.71L200.93 235.72L202.51 234.08L199.88 233.06z" fill="#277e8e"/><path d="M285.3 228.68L288.01 228.89L289.48 227.75L286.77 227.55z" fill="#56c667"/><path d="M252.1 232.82L254.77 233.33L256.29 231.99L253.62 231.48z" fill="#1f978b"/><path d="M223.09 234.73L225.75 235.51L227.3 234L224.65 233.22z" fill="#27808e"/><path d="M296.38 226.97L299.1 227.07L300.55 226.01L297.83 225.91z" fill="#8ed645"/><path d="M205.15 235.06L207.8 236.01L209.37 234.39L206.73 233.45z" fill="#287c8e"/><path d="M241.03 233.87L243.7 234.48L245.23 233.07L242.56 232.46z" fill="#228c8d"/><path d="M166.6 232.8L169.23 234.12L170.85 232.3L168.23 230.99z" fill="#1f978b"/><path d="M173.47 233.58L176.1 234.83L177.71 233.05L175.09 231.8z" fill="#218f8d"/><path d="M180.34 234.27L182.97 235.45L184.57 233.7L181.94 232.52z" fill="#24878e"/><path d="M229.96 234.75L232.62 235.46L234.16 233.98L231.51 233.27z" fill="#26828e"/><path d="M212.02 235.31L214.66 236.19L216.23 234.61L213.59 233.73z" fill="#287c8e"/><path d="M187.2 234.85L189.84 235.97L191.43 234.26L188.8 233.14z" fill="#26828e"/><path d="M270.04 231.12L272.74 231.47L274.23 230.23L271.54 229.89z" fill="#2ab07f"/><path d="M258.97 232.47L261.66 232.92L263.16 231.61L260.48 231.16z" fill="#1fa188"/><path d="M281.12 229.61L283.82 229.85L285.3 228.68L282.6 228.44z" fill="#4ac16d"/><path d="M247.9 233.65L250.57 234.2L252.1 232.82L249.42 232.27z" fill="#20928c"/><path d="M194.07 235.34L196.7 236.39L198.29 234.71L195.66 233.66z" fill="#287d8e"/><path d="M292.2 227.93L294.91 228.07L296.38 226.97L293.66 226.83z" fill="#7cd250"/><path d="M218.88 235.46L221.53 236.28L223.09 234.73L220.44 233.91z" fill="#287d8e"/><path d="M236.82 234.66L239.49 235.31L241.03 233.87L238.37 233.22z" fill="#23888e"/><path d="M200.93 235.72L203.57 236.71L205.15 235.06L202.51 234.08z" fill="#297b8e"/><path d="M303.28 226.08L306.01 226.11L307.45 225.09L304.72 225.05z" fill="#c0df25"/><path d="M225.75 235.51L228.4 236.26L229.96 234.75L227.3 234z" fill="#27808e"/><path d="M169.23 234.12L171.86 235.4L173.47 233.58L170.85 232.3z" fill="#21908d"/><path d="M207.8 236.01L210.44 236.93L212.02 235.31L209.37 234.39z" fill="#297a8e"/><path d="M265.85 232.02L268.54 232.4L270.04 231.12L267.35 230.75z" fill="#25ab82"/><path d="M176.1 234.83L178.73 236.05L180.34 234.27L177.71 233.05z" fill="#24878e"/><path d="M276.93 230.54L279.63 230.81L281.12 229.61L278.42 229.33z" fill="#3fbc73"/><path d="M254.77 233.33L257.46 233.81L258.97 232.47L256.29 231.99z" fill="#1e9c89"/><path d="M182.97 235.45L185.6 236.61L187.2 234.85L184.57 233.7z" fill="#26818e"/><path d="M288.01 228.89L290.73 229.06L292.2 227.93L289.48 227.75z" fill="#6ccd5a"/><path d="M243.7 234.48L246.37 235.06L247.9 233.65L245.23 233.07z" fill="#218f8d"/><path d="M189.84 235.97L192.47 237.06L194.07 235.34L191.43 234.26z" fill="#287c8e"/><path d="M214.66 236.19L217.31 237.05L218.88 235.46L216.23 234.61z" fill="#297a8e"/><path d="M299.1 227.07L301.83 227.14L303.28 226.08L300.55 226.01z" fill="#addc30"/><path d="M232.62 235.46L235.28 236.15L236.82 234.66L234.16 233.98z" fill="#25848e"/><path d="M196.7 236.39L199.34 237.41L200.93 235.72L198.29 234.71z" fill="#29798e"/><path d="M261.66 232.92L264.35 233.33L265.85 232.02L263.16 231.61z" fill="#21a685"/><path d="M221.53 236.28L224.19 237.07L225.75 235.51L223.09 234.73z" fill="#287d8e"/><path d="M272.74 231.47L275.44 231.78L276.93 230.54L274.23 230.23z" fill="#35b779"/><path d="M250.57 234.2L253.25 234.71L254.77 233.33L252.1 232.82z" fill="#1f978b"/><path d="M203.57 236.71L206.22 237.67L207.8 236.01L205.15 235.06z" fill="#2a778e"/><path d="M283.82 229.85L286.54 230.06L288.01 228.89L285.3 228.68z" fill="#5ec962"/><path d="M164.98 234.65L167.61 235.97L169.23 234.12L166.6 232.8z" fill="#21908d"/><path d="M171.86 235.4L174.48 236.66L176.1 234.83L173.47 233.58z" fill="#24878e"/><path d="M239.49 235.31L242.16 235.93L243.7 234.48L241.03 233.87z" fill="#238a8d"/><path d="M178.73 236.05L181.36 237.24L182.97 235.45L180.34 234.27z" fill="#26818e"/><path d="M294.91 228.07L297.64 228.17L299.1 227.07L296.38 226.97z" fill="#98d83e"/><path d="M210.44 236.93L213.09 237.82L214.66 236.19L212.02 235.31z" fill="#2a788e"/><path d="M185.6 236.61L188.24 237.73L189.84 235.97L187.2 234.85z" fill="#297b8e"/><path d="M228.4 236.26L231.07 236.99L232.62 235.46L229.96 234.75z" fill="#26818e"/><path d="M192.47 237.06L195.11 238.12L196.7 236.39L194.07 235.34z" fill="#2a778e"/><path d="M257.46 233.81L260.14 234.26L261.66 232.92L258.97 232.47z" fill="#1fa188"/><path d="M268.54 232.4L271.24 232.74L272.74 231.47L270.04 231.12z" fill="#2db27d"/><path d="M246.37 235.06L249.05 235.62L250.57 234.2L247.9 233.65z" fill="#20928c"/><path d="M217.31 237.05L219.97 237.87L221.53 236.28L218.88 235.46z" fill="#29798e"/><path d="M279.63 230.81L282.34 231.06L283.82 229.85L281.12 229.61z" fill="#50c46a"/><path d="M199.34 237.41L201.99 238.4L203.57 236.71L200.93 235.72z" fill="#2b758e"/><path d="M235.28 236.15L237.95 236.8L239.49 235.31L236.82 234.66z" fill="#24868e"/><path d="M290.73 229.06L293.45 229.2L294.91 228.07L292.2 227.93z" fill="#86d549"/><path d="M167.61 235.97L170.24 237.26L171.86 235.4L169.23 234.12z" fill="#24878e"/><path d="M174.48 236.66L177.12 237.88L178.73 236.05L176.1 234.83z" fill="#27808e"/><path d="M206.22 237.67L208.86 238.59L210.44 236.93L207.8 236.01z" fill="#2b758e"/><path d="M224.19 237.07L226.85 237.82L228.4 236.26L225.75 235.51z" fill="#287d8e"/><path d="M301.83 227.14L304.56 227.18L306.01 226.11L303.28 226.08z" fill="#cde11d"/><path d="M181.36 237.24L183.99 238.4L185.6 236.61L182.97 235.45z" fill="#297a8e"/><path d="M264.35 233.33L267.04 233.71L268.54 232.4L265.85 232.02z" fill="#25ac82"/><path d="M253.25 234.71L255.94 235.2L257.46 233.81L254.77 233.33z" fill="#1e9c89"/><path d="M275.44 231.78L278.15 232.06L279.63 230.81L276.93 230.54z" fill="#42be71"/><path d="M188.24 237.73L190.87 238.82L192.47 237.06L189.84 235.97z" fill="#2a768e"/><path d="M242.16 235.93L244.84 236.52L246.37 235.06L243.7 234.48z" fill="#218e8d"/><path d="M213.09 237.82L215.74 238.68L217.31 237.05L214.66 236.19z" fill="#2a768e"/><path d="M286.54 230.06L289.25 230.24L290.73 229.06L288.01 228.89z" fill="#75d054"/><path d="M231.07 236.99L233.73 237.67L235.28 236.15L232.62 235.46z" fill="#26828e"/><path d="M195.11 238.12L197.75 239.14L199.34 237.41L196.7 236.39z" fill="#2c738e"/><path d="M297.64 228.17L300.37 228.25L301.83 227.14L299.1 227.07z" fill="#b8de29"/><path d="M163.35 236.54L165.98 237.87L167.61 235.97L164.98 234.65z" fill="#24878e"/><path d="M219.97 237.87L222.63 238.66L224.19 237.07L221.53 236.28z" fill="#29798e"/><path d="M201.99 238.4L204.63 239.36L206.22 237.67L203.57 236.71z" fill="#2c728e"/><path d="M170.24 237.26L172.87 238.52L174.48 236.66L171.86 235.4z" fill="#27808e"/><path d="M260.14 234.26L262.84 234.68L264.35 233.33L261.66 232.92z" fill="#21a685"/><path d="M249.05 235.62L251.73 236.14L253.25 234.71L250.57 234.2z" fill="#1f968b"/><path d="M177.12 237.88L179.75 239.07L181.36 237.24L178.73 236.05z" fill="#29798e"/><path d="M271.24 232.74L273.94 233.06L275.44 231.78L272.74 231.47z" fill="#37b878"/><path d="M237.95 236.8L240.62 237.42L242.16 235.93L239.49 235.31z" fill="#23888e"/><path d="M282.34 231.06L285.06 231.27L286.54 230.06L283.82 229.85z" fill="#63cb5f"/><path d="M183.99 238.4L186.63 239.53L188.24 237.73L185.6 236.61z" fill="#2b748e"/><path d="M208.86 238.59L211.52 239.48L213.09 237.82L210.44 236.93z" fill="#2c738e"/><path d="M226.85 237.82L229.51 238.55L231.07 236.99L228.4 236.26z" fill="#277e8e"/><path d="M293.45 229.2L296.18 229.31L297.64 228.17L294.91 228.07z" fill="#a2da37"/><path d="M190.87 238.82L193.51 239.88L195.11 238.12L192.47 237.06z" fill="#2c718e"/><path d="M215.74 238.68L218.4 239.5L219.97 237.87L217.31 237.05z" fill="#2b758e"/><path d="M255.94 235.2L258.63 235.65L260.14 234.26L257.46 233.81z" fill="#1fa188"/><path d="M197.75 239.14L200.4 240.14L201.99 238.4L199.34 237.41z" fill="#2d708e"/><path d="M267.04 233.71L269.74 234.06L271.24 232.74L268.54 232.4z" fill="#2eb37c"/><path d="M244.84 236.52L247.51 237.08L249.05 235.62L246.37 235.06z" fill="#21918c"/><path d="M165.98 237.87L168.61 239.16L170.24 237.26L167.61 235.97z" fill="#27808e"/><path d="M278.15 232.06L280.86 232.31L282.34 231.06L279.63 230.81z" fill="#54c568"/><path d="M233.73 237.67L236.4 238.33L237.95 236.8L235.28 236.15z" fill="#25838e"/><path d="M172.87 238.52L175.5 239.75L177.12 237.88L174.48 236.66z" fill="#2a788e"/><path d="M204.63 239.36L207.28 240.29L208.86 238.59L206.22 237.67z" fill="#2d708e"/><path d="M179.75 239.07L182.39 240.24L183.99 238.4L181.36 237.24z" fill="#2c738e"/><path d="M289.25 230.24L291.98 230.38L293.45 229.2L290.73 229.06z" fill="#90d743"/><path d="M222.63 238.66L225.29 239.42L226.85 237.82L224.19 237.07z" fill="#29798e"/><path d="M186.63 239.53L189.27 240.62L190.87 238.82L188.24 237.73z" fill="#2d708e"/><path d="M300.37 228.25L303.11 228.29L304.56 227.18L301.83 227.14z" fill="#dae319"/><path d="M251.73 236.14L254.41 236.62L255.94 235.2L253.25 234.71z" fill="#1e9b8a"/><path d="M262.84 234.68L265.53 235.07L267.04 233.71L264.35 233.33z" fill="#26ad81"/><path d="M211.52 239.48L214.17 240.34L215.74 238.68L213.09 237.82z" fill="#2c718e"/><path d="M240.62 237.42L243.3 238.02L244.84 236.52L242.16 235.93z" fill="#228c8d"/><path d="M193.51 239.88L196.16 240.91L197.75 239.14L195.11 238.12z" fill="#2e6d8e"/><path d="M273.94 233.06L276.65 233.34L278.15 232.06L275.44 231.78z" fill="#46c06f"/><path d="M229.51 238.55L232.18 239.24L233.73 237.67L231.07 236.99z" fill="#277f8e"/><path d="M161.72 238.47L164.36 239.8L165.98 237.87L163.35 236.54z" fill="#277f8e"/><path d="M285.06 231.27L287.78 231.45L289.25 230.24L286.54 230.06z" fill="#7cd250"/><path d="M168.61 239.16L171.25 240.42L172.87 238.52L170.24 237.26z" fill="#2a778e"/><path d="M200.4 240.14L203.05 241.1L204.63 239.36L201.99 238.4z" fill="#2e6d8e"/><path d="M218.4 239.5L221.06 240.3L222.63 238.66L219.97 237.87z" fill="#2b758e"/><path d="M175.5 239.75L178.14 240.95L179.75 239.07L177.12 237.88z" fill="#2c718e"/><path d="M296.18 229.31L298.91 229.39L300.37 228.25L297.64 228.17z" fill="#c2df23"/><path d="M182.39 240.24L185.03 241.37L186.63 239.53L183.99 238.4z" fill="#2e6d8e"/><path d="M247.51 237.08L250.2 237.6L251.73 236.14L249.05 235.62z" fill="#1f958b"/><path d="M258.63 235.65L261.32 236.07L262.84 234.68L260.14 234.26z" fill="#21a685"/><path d="M236.4 238.33L239.08 238.96L240.62 237.42L237.95 236.8z" fill="#24868e"/><path d="M269.74 234.06L272.44 234.38L273.94 233.06L271.24 232.74z" fill="#38b977"/><path d="M207.28 240.29L209.94 241.19L211.52 239.48L208.86 238.59z" fill="#2e6e8e"/><path d="M189.27 240.62L191.92 241.69L193.51 239.88L190.87 238.82z" fill="#2f6b8e"/><path d="M225.29 239.42L227.95 240.15L229.51 238.55L226.85 237.82z" fill="#297a8e"/><path d="M280.86 232.31L283.57 232.52L285.06 231.27L282.34 231.06z" fill="#69cd5b"/><path d="M164.36 239.8L166.99 241.1L168.61 239.16L165.98 237.87z" fill="#2a768e"/><path d="M214.17 240.34L216.83 241.17L218.4 239.5L215.74 238.68z" fill="#2d718e"/><path d="M196.16 240.91L198.81 241.91L200.4 240.14L197.75 239.14z" fill="#306a8e"/><path d="M291.98 230.38L294.71 230.49L296.18 229.31L293.45 229.2z" fill="#addc30"/><path d="M171.25 240.42L173.88 241.66L175.5 239.75L172.87 238.52z" fill="#2d708e"/><path d="M254.41 236.62L257.11 237.08L258.63 235.65L255.94 235.2z" fill="#1fa088"/><path d="M243.3 238.02L245.98 238.57L247.51 237.08L244.84 236.52z" fill="#218f8d"/><path d="M265.53 235.07L268.23 235.42L269.74 234.06L267.04 233.71z" fill="#2eb37c"/><path d="M232.18 239.24L234.85 239.9L236.4 238.33L233.73 237.67z" fill="#26818e"/><path d="M178.14 240.95L180.77 242.11L182.39 240.24L179.75 239.07z" fill="#2f6b8e"/><path d="M203.05 241.1L205.7 242.03L207.28 240.29L204.63 239.36z" fill="#306a8e"/><path d="M276.65 233.34L279.37 233.59L280.86 232.31L278.15 232.06z" fill="#58c765"/><path d="M221.06 240.3L223.73 241.06L225.29 239.42L222.63 238.66z" fill="#2b758e"/><path d="M185.03 241.37L187.67 242.47L189.27 240.62L186.63 239.53z" fill="#31688e"/><path d="M287.78 231.45L290.5 231.6L291.98 230.38L289.25 230.24z" fill="#95d840"/><path d="M209.94 241.19L212.59 242.05L214.17 240.34L211.52 239.48z" fill="#2e6d8e"/><path d="M191.92 241.69L194.56 242.72L196.16 240.91L193.51 239.88z" fill="#31668e"/><path d="M250.2 237.6L252.89 238.09L254.41 236.62L251.73 236.14z" fill="#1f998a"/><path d="M160.09 240.44L162.72 241.78L164.36 239.8L161.72 238.47z" fill="#2b758e"/><path d="M239.08 238.96L241.76 239.55L243.3 238.02L240.62 237.42z" fill="#23898e"/><path d="M261.32 236.07L264.02 236.46L265.53 235.07L262.84 234.68z" fill="#26ad81"/><path d="M166.99 241.1L169.62 242.37L171.25 240.42L168.61 239.16z" fill="#2e6f8e"/><path d="M298.91 229.39L301.65 229.43L303.11 228.29L300.37 228.25z" fill="#e5e419"/><path d="M227.95 240.15L230.62 240.84L232.18 239.24L229.51 238.55z" fill="#287c8e"/><path d="M272.44 234.38L275.15 234.67L276.65 233.34L273.94 233.06z" fill="#48c16e"/><path d="M173.88 241.66L176.52 242.86L178.14 240.95L175.5 239.75z" fill="#30698e"/><path d="M198.81 241.91L201.46 242.88L203.05 241.1L200.4 240.14z" fill="#31668e"/><path d="M216.83 241.17L219.49 241.97L221.06 240.3L218.4 239.5z" fill="#2d718e"/><path d="M283.57 232.52L286.3 232.7L287.78 231.45L285.06 231.27z" fill="#81d34d"/><path d="M180.77 242.11L183.42 243.25L185.03 241.37L182.39 240.24z" fill="#32658e"/><path d="M205.7 242.03L208.35 242.93L209.94 241.19L207.28 240.29z" fill="#31688e"/><path d="M245.98 238.57L248.66 239.1L250.2 237.6L247.51 237.08z" fill="#20938c"/><path d="M257.11 237.08L259.8 237.5L261.32 236.07L258.63 235.65z" fill="#21a585"/><path d="M187.67 242.47L190.31 243.54L191.92 241.69L189.27 240.62z" fill="#33638d"/><path d="M234.85 239.9L237.53 240.53L239.08 238.96L236.4 238.33z" fill="#25838e"/><path d="M294.71 230.49L297.44 230.57L298.91 229.39L296.18 229.31z" fill="#cde11d"/><path d="M268.23 235.42L270.94 235.74L272.44 234.38L269.74 234.06z" fill="#3aba76"/><path d="M223.73 241.06L226.39 241.79L227.95 240.15L225.29 239.42z" fill="#2a768e"/><path d="M162.72 241.78L165.36 243.08L166.99 241.1L164.36 239.8z" fill="#2e6d8e"/><path d="M194.56 242.72L197.21 243.72L198.81 241.91L196.16 240.91z" fill="#33638d"/><path d="M279.37 233.59L282.08 233.81L283.57 232.52L280.86 232.31z" fill="#6ccd5a"/><path d="M169.62 242.37L172.26 243.61L173.88 241.66L171.25 240.42z" fill="#31678e"/><path d="M212.59 242.05L215.25 242.88L216.83 241.17L214.17 240.34z" fill="#2f6c8e"/><path d="M176.52 242.86L179.16 244.03L180.77 242.11L178.14 240.95z" fill="#33628d"/><path d="M241.76 239.55L244.44 240.11L245.98 238.57L243.3 238.02z" fill="#228d8d"/><path d="M290.5 231.6L293.24 231.71L294.71 230.49L291.98 230.38z" fill="#b5de2b"/><path d="M252.89 238.09L255.58 238.55L257.11 237.08L254.41 236.62z" fill="#1f9f88"/><path d="M201.46 242.88L204.11 243.81L205.7 242.03L203.05 241.1z" fill="#32648e"/><path d="M230.62 240.84L233.3 241.51L234.85 239.9L232.18 239.24z" fill="#277e8e"/><path d="M264.02 236.46L266.72 236.82L268.23 235.42L265.53 235.07z" fill="#2eb37c"/><path d="M183.42 243.25L186.06 244.35L187.67 242.47L185.03 241.37z" fill="#34608d"/><path d="M219.49 241.97L222.16 242.74L223.73 241.06L221.06 240.3z" fill="#2d718e"/><path d="M275.15 234.67L277.87 234.92L279.37 233.59L276.65 233.34z" fill="#5ac864"/><path d="M158.46 242.46L161.09 243.8L162.72 241.78L160.09 240.44z" fill="#2f6b8e"/><path d="M190.31 243.54L192.96 244.57L194.56 242.72L191.92 241.69z" fill="#355f8d"/><path d="M208.35 242.93L211.01 243.8L212.59 242.05L209.94 241.19z" fill="#31678e"/><path d="M165.36 243.08L168 244.35L169.62 242.37L166.99 241.1z" fill="#32648e"/><path d="M286.3 232.7L289.02 232.85L290.5 231.6L287.78 231.45z" fill="#9bd93c"/><path d="M237.53 240.53L240.21 241.13L241.76 239.55L239.08 238.96z" fill="#24868e"/><path d="M248.66 239.1L251.36 239.6L252.89 238.09L250.2 237.6z" fill="#1f988b"/><path d="M172.26 243.61L174.9 244.81L176.52 242.86L173.88 241.66z" fill="#355f8d"/><path d="M226.39 241.79L229.07 242.49L230.62 240.84L227.95 240.15z" fill="#2a778e"/><path d="M259.8 237.5L262.5 237.9L264.02 236.46L261.32 236.07z" fill="#25ac82"/><path d="M197.21 243.72L199.86 244.69L201.46 242.88L198.81 241.91z" fill="#355f8d"/><path d="M215.25 242.88L217.92 243.69L219.49 241.97L216.83 241.17z" fill="#2f6c8e"/><path d="M179.16 244.03L181.8 245.17L183.42 243.25L180.77 242.11z" fill="#365c8d"/><path d="M270.94 235.74L273.65 236.03L275.15 234.67L272.44 234.38z" fill="#48c16e"/><path d="M297.44 230.57L300.19 230.62L301.65 229.43L298.91 229.39z" fill="#ece51b"/><path d="M204.11 243.81L206.77 244.72L208.35 242.93L205.7 242.03z" fill="#33628d"/><path d="M186.06 244.35L188.71 245.42L190.31 243.54L187.67 242.47z" fill="#375b8d"/><path d="M282.08 233.81L284.81 234L286.3 232.7L283.57 232.52z" fill="#84d44b"/><path d="M244.44 240.11L247.13 240.64L248.66 239.1L245.98 238.57z" fill="#21918c"/><path d="M233.3 241.51L235.98 242.14L237.53 240.53L234.85 239.9z" fill="#27808e"/><path d="M161.09 243.8L163.73 245.1L165.36 243.08L162.72 241.78z" fill="#33628d"/><path d="M255.58 238.55L258.28 238.98L259.8 237.5L257.11 237.08z" fill="#20a486"/><path d="M222.16 242.74L224.83 243.47L226.39 241.79L223.73 241.06z" fill="#2c718e"/><path d="M168 244.35L170.64 245.59L172.26 243.61L169.62 242.37z" fill="#365d8d"/><path d="M192.96 244.57L195.61 245.58L197.21 243.72L194.56 242.72z" fill="#375b8d"/><path d="M293.24 231.71L295.97 231.79L297.44 230.57L294.71 230.49z" fill="#d2e21b"/><path d="M266.72 236.82L269.43 237.14L270.94 235.74L268.23 235.42z" fill="#3aba76"/><path d="M211.01 243.8L213.68 244.64L215.25 242.88L212.59 242.05z" fill="#31668e"/><path d="M174.9 244.81L177.54 245.98L179.16 244.03L176.52 242.86z" fill="#38598c"/><path d="M277.87 234.92L280.59 235.14L282.08 233.81L279.37 233.59z" fill="#6ece58"/><path d="M199.86 244.69L202.52 245.63L204.11 243.81L201.46 242.88z" fill="#365d8d"/><path d="M181.8 245.17L184.45 246.27L186.06 244.35L183.42 243.25z" fill="#39568c"/><path d="M240.21 241.13L242.9 241.69L244.44 240.11L241.76 239.55z" fill="#238a8d"/><path d="M229.07 242.49L231.74 243.16L233.3 241.51L230.62 240.84z" fill="#29798e"/><path d="M251.36 239.6L254.05 240.06L255.58 238.55L252.89 238.09z" fill="#1e9d89"/><path d="M217.92 243.69L220.59 244.46L222.16 242.74L219.49 241.97z" fill="#2f6c8e"/><path d="M289.02 232.85L291.76 232.97L293.24 231.71L290.5 231.6z" fill="#bade28"/><path d="M156.82 244.51L159.46 245.85L161.09 243.8L158.46 242.46z" fill="#34608d"/><path d="M262.5 237.9L265.21 238.26L266.72 236.82L264.02 236.46z" fill="#2db27d"/><path d="M188.71 245.42L191.36 246.46L192.96 244.57L190.31 243.54z" fill="#39558c"/><path d="M163.73 245.1L166.37 246.38L168 244.35L165.36 243.08z" fill="#375a8c"/><path d="M206.77 244.72L209.43 245.59L211.01 243.8L208.35 242.93z" fill="#34608d"/><path d="M273.65 236.03L276.37 236.29L277.87 234.92L275.15 234.67z" fill="#5ac864"/><path d="M170.64 245.59L173.28 246.8L174.9 244.81L172.26 243.61z" fill="#3a548c"/><path d="M195.61 245.58L198.27 246.55L199.86 244.69L197.21 243.72z" fill="#39568c"/><path d="M235.98 242.14L238.66 242.74L240.21 241.13L237.53 240.53z" fill="#26828e"/><path d="M247.13 240.64L249.82 241.14L251.36 239.6L248.66 239.1z" fill="#1f958b"/><path d="M224.83 243.47L227.5 244.17L229.07 242.49L226.39 241.79z" fill="#2c728e"/><path d="M177.54 245.98L180.19 247.13L181.8 245.17L179.16 244.03z" fill="#3b528b"/><path d="M284.81 234L287.54 234.15L289.02 232.85L286.3 232.7z" fill="#a0da39"/><path d="M258.28 238.98L260.98 239.37L262.5 237.9L259.8 237.5z" fill="#25ab82"/><path d="M213.68 244.64L216.34 245.44L217.92 243.69L215.25 242.88z" fill="#31668e"/><path d="M184.45 246.27L187.1 247.35L188.71 245.42L186.06 244.35z" fill="#3b518b"/><path d="M269.43 237.14L272.15 237.44L273.65 236.03L270.94 235.74z" fill="#48c16e"/><path d="M202.52 245.63L205.18 246.54L206.77 244.72L204.11 243.81z" fill="#375a8c"/><path d="M159.46 245.85L162.09 247.17L163.73 245.1L161.09 243.8z" fill="#39568c"/><path d="M295.97 231.79L298.72 231.84L300.19 230.62L297.44 230.57z" fill="#f4e61e"/><path d="M166.37 246.38L169.01 247.62L170.64 245.59L168 244.35z" fill="#3b518b"/><path d="M231.74 243.16L234.42 243.79L235.98 242.14L233.3 241.51z" fill="#287c8e"/><path d="M242.9 241.69L245.59 242.22L247.13 240.64L244.44 240.11z" fill="#218e8d"/><path d="M280.59 235.14L283.32 235.33L284.81 234L282.08 233.81z" fill="#86d549"/><path d="M191.36 246.46L194.01 247.47L195.61 245.58L192.96 244.57z" fill="#3b518b"/><path d="M220.59 244.46L223.26 245.19L224.83 243.47L222.16 242.74z" fill="#2e6d8e"/><path d="M254.05 240.06L256.75 240.49L258.28 238.98L255.58 238.55z" fill="#1fa287"/><path d="M173.28 246.8L175.92 247.98L177.54 245.98L174.9 244.81z" fill="#3d4e8a"/><path d="M209.43 245.59L212.09 246.43L213.68 244.64L211.01 243.8z" fill="#355f8d"/><path d="M265.21 238.26L267.92 238.58L269.43 237.14L266.72 236.82z" fill="#38b977"/><path d="M291.76 232.97L294.5 233.06L295.97 231.79L293.24 231.71z" fill="#dae319"/><path d="M180.19 247.13L182.84 248.24L184.45 246.27L181.8 245.17z" fill="#3e4c8a"/><path d="M198.27 246.55L200.93 247.5L202.52 245.63L199.86 244.69z" fill="#3a548c"/><path d="M276.37 236.29L279.09 236.51L280.59 235.14L277.87 234.92z" fill="#70cf57"/><path d="M227.5 244.17L230.18 244.85L231.74 243.16L229.07 242.49z" fill="#2b748e"/><path d="M238.66 242.74L241.35 243.31L242.9 241.69L240.21 241.13z" fill="#24868e"/><path d="M162.09 247.17L164.74 248.45L166.37 246.38L163.73 245.1z" fill="#3d4d8a"/><path d="M216.34 245.44L219.01 246.22L220.59 244.46L217.92 243.69z" fill="#31668e"/><path d="M249.82 241.14L252.52 241.61L254.05 240.06L251.36 239.6z" fill="#1f9a8a"/><path d="M187.1 247.35L189.75 248.4L191.36 246.46L188.71 245.42z" fill="#3e4c8a"/><path d="M205.18 246.54L207.84 247.42L209.43 245.59L206.77 244.72z" fill="#38598c"/><path d="M260.98 239.37L263.69 239.74L265.21 238.26L262.5 237.9z" fill="#2cb17e"/><path d="M169.01 247.62L171.65 248.84L173.28 246.8L170.64 245.59z" fill="#3f4889"/><path d="M287.54 234.15L290.28 234.27L291.76 232.97L289.02 232.85z" fill="#bddf26"/><path d="M194.01 247.47L196.67 248.45L198.27 246.55L195.61 245.58z" fill="#3d4e8a"/><path d="M175.92 247.98L178.57 249.13L180.19 247.13L177.54 245.98z" fill="#404688"/><path d="M272.15 237.44L274.87 237.7L276.37 236.29L273.65 236.03z" fill="#5ac864"/><path d="M234.42 243.79L237.11 244.4L238.66 242.74L235.98 242.14z" fill="#277f8e"/><path d="M223.26 245.19L225.94 245.9L227.5 244.17L224.83 243.47z" fill="#2e6e8e"/><path d="M245.59 242.22L248.28 242.73L249.82 241.14L247.13 240.64z" fill="#20928c"/><path d="M212.09 246.43L214.76 247.24L216.34 245.44L213.68 244.64z" fill="#355f8d"/><path d="M182.84 248.24L185.49 249.32L187.1 247.35L184.45 246.27z" fill="#404688"/><path d="M256.75 240.49L259.46 240.89L260.98 239.37L258.28 238.98z" fill="#23a983"/><path d="M283.32 235.33L286.05 235.49L287.54 234.15L284.81 234z" fill="#a2da37"/><path d="M200.93 247.5L203.59 248.41L205.18 246.54L202.52 245.63z" fill="#3b528b"/><path d="M164.74 248.45L167.38 249.69L169.01 247.62L166.37 246.38z" fill="#414487"/><path d="M267.92 238.58L270.64 238.88L272.15 237.44L269.43 237.14z" fill="#46c06f"/><path d="M189.75 248.4L192.41 249.41L194.01 247.47L191.36 246.46z" fill="#3f4788"/><path d="M230.18 244.85L232.86 245.49L234.42 243.79L231.74 243.16z" fill="#2a778e"/><path d="M171.65 248.84L174.3 250.02L175.92 247.98L173.28 246.8z" fill="#424186"/><path d="M219.01 246.22L221.69 246.96L223.26 245.19L220.59 244.46z" fill="#31668e"/><path d="M241.35 243.31L244.04 243.85L245.59 242.22L242.9 241.69z" fill="#238a8d"/><path d="M294.5 233.06L297.24 233.11L298.72 231.84L295.97 231.79z" fill="#f8e621"/><path d="M207.84 247.42L210.51 248.26L212.09 246.43L209.43 245.59z" fill="#38588c"/><path d="M279.09 236.51L281.82 236.7L283.32 235.33L280.59 235.14z" fill="#89d548"/><path d="M252.52 241.61L255.22 242.04L256.75 240.49L254.05 240.06z" fill="#1fa088"/><path d="M178.57 249.13L181.22 250.24L182.84 248.24L180.19 247.13z" fill="#424086"/><path d="M196.67 248.45L199.33 249.4L200.93 247.5L198.27 246.55z" fill="#3e4a89"/><path d="M263.69 239.74L266.4 240.07L267.92 238.58L265.21 238.26z" fill="#35b779"/><path d="M290.28 234.27L293.02 234.36L294.5 233.06L291.76 232.97z" fill="#dde318"/><path d="M225.94 245.9L228.62 246.58L230.18 244.85L227.5 244.17z" fill="#2d708e"/><path d="M185.49 249.32L188.14 250.37L189.75 248.4L187.1 247.35z" fill="#424086"/><path d="M237.11 244.4L239.8 244.97L241.35 243.31L238.66 242.74z" fill="#26828e"/><path d="M214.76 247.24L217.43 248.02L219.01 246.22L216.34 245.44z" fill="#355f8d"/><path d="M167.38 249.69L170.03 250.91L171.65 248.84L169.01 247.62z" fill="#443b84"/><path d="M274.87 237.7L277.59 237.92L279.09 236.51L276.37 236.29z" fill="#6ece58"/><path d="M248.28 242.73L250.98 243.2L252.52 241.61L249.82 241.14z" fill="#1f978b"/><path d="M203.59 248.41L206.25 249.29L207.84 247.42L205.18 246.54z" fill="#3c508b"/><path d="M174.3 250.02L176.95 251.17L178.57 249.13L175.92 247.98z" fill="#443983"/><path d="M259.46 240.89L262.17 241.25L263.69 239.74L260.98 239.37z" fill="#29af7f"/><path d="M192.41 249.41L195.07 250.39L196.67 248.45L194.01 247.47z" fill="#414487"/><path d="M286.05 235.49L288.79 235.61L290.28 234.27L287.54 234.15z" fill="#c0df25"/><path d="M221.69 246.96L224.37 247.67L225.94 245.9L223.26 245.19z" fill="#31688e"/><path d="M232.86 245.49L235.55 246.09L237.11 244.4L234.42 243.79z" fill="#297a8e"/><path d="M270.64 238.88L273.36 239.14L274.87 237.7L272.15 237.44z" fill="#58c765"/><path d="M210.51 248.26L213.18 249.07L214.76 247.24L212.09 246.43z" fill="#39568c"/><path d="M181.22 250.24L183.87 251.33L185.49 249.32L182.84 248.24z" fill="#443a83"/><path d="M244.04 243.85L246.74 244.35L248.28 242.73L245.59 242.22z" fill="#218f8d"/><path d="M199.33 249.4L201.99 250.31L203.59 248.41L200.93 247.5z" fill="#3f4889"/><path d="M255.22 242.04L257.93 242.44L259.46 240.89L256.75 240.49z" fill="#21a685"/><path d="M281.82 236.7L284.56 236.86L286.05 235.49L283.32 235.33z" fill="#a2da37"/><path d="M188.14 250.37L190.8 251.39L192.41 249.41L189.75 248.4z" fill="#443b84"/><path d="M170.03 250.91L172.67 252.1L174.3 250.02L171.65 248.84z" fill="#46337f"/><path d="M266.4 240.07L269.12 240.36L270.64 238.88L267.92 238.58z" fill="#44bf70"/><path d="M217.43 248.02L220.11 248.76L221.69 246.96L219.01 246.22z" fill="#34608d"/><path d="M228.62 246.58L231.3 247.22L232.86 245.49L230.18 244.85z" fill="#2c718e"/><path d="M206.25 249.29L208.92 250.13L210.51 248.26L207.84 247.42z" fill="#3c4f8a"/><path d="M239.8 244.97L242.49 245.51L244.04 243.85L241.35 243.31z" fill="#24868e"/><path d="M176.95 251.17L179.6 252.29L181.22 250.24L178.57 249.13z" fill="#46337f"/><path d="M195.07 250.39L197.73 251.34L199.33 249.4L196.67 248.45z" fill="#424086"/><path d="M250.98 243.2L253.68 243.63L255.22 242.04L252.52 241.61z" fill="#1e9d89"/><path d="M293.02 234.36L295.77 234.41L297.24 233.11L294.5 233.06z" fill="#fbe723"/><path d="M277.59 237.92L280.32 238.12L281.82 236.7L279.09 236.51z" fill="#86d549"/><path d="M183.87 251.33L186.53 252.38L188.14 250.37L185.49 249.32z" fill="#463480"/><path d="M262.17 241.25L264.88 241.59L266.4 240.07L263.69 239.74z" fill="#32b67a"/><path d="M224.37 247.67L227.05 248.35L228.62 246.58L225.94 245.9z" fill="#306a8e"/><path d="M213.18 249.07L215.85 249.86L217.43 248.02L214.76 247.24z" fill="#38588c"/><path d="M235.55 246.09L238.24 246.67L239.8 244.97L237.11 244.4z" fill="#277e8e"/><path d="M201.99 250.31L204.66 251.2L206.25 249.29L203.59 248.41z" fill="#404688"/><path d="M288.79 235.61L291.53 235.7L293.02 234.36L290.28 234.27z" fill="#dfe318"/><path d="M172.67 252.1L175.32 253.25L176.95 251.17L174.3 250.02z" fill="#472c7a"/><path d="M246.74 244.35L249.44 244.83L250.98 243.2L248.28 242.73z" fill="#20938c"/><path d="M273.36 239.14L276.09 239.37L277.59 237.92L274.87 237.7z" fill="#6ccd5a"/><path d="M190.8 251.39L193.46 252.37L195.07 250.39L192.41 249.41z" fill="#453882"/><path d="M257.93 242.44L260.64 242.81L262.17 241.25L259.46 240.89z" fill="#26ad81"/><path d="M179.6 252.29L182.26 253.38L183.87 251.33L181.22 250.24z" fill="#472d7b"/><path d="M220.11 248.76L222.79 249.48L224.37 247.67L221.69 246.96z" fill="#34618d"/><path d="M208.92 250.13L211.59 250.95L213.18 249.07L210.51 248.26z" fill="#3d4e8a"/><path d="M231.3 247.22L233.99 247.83L235.55 246.09L232.86 245.49z" fill="#2b748e"/><path d="M284.56 236.86L287.3 236.99L288.79 235.61L286.05 235.49z" fill="#c0df25"/><path d="M197.73 251.34L200.39 252.26L201.99 250.31L199.33 249.4z" fill="#433e85"/><path d="M242.49 245.51L245.19 246.02L246.74 244.35L244.04 243.85z" fill="#228b8d"/><path d="M269.12 240.36L271.85 240.63L273.36 239.14L270.64 238.88z" fill="#56c667"/><path d="M186.53 252.38L189.19 253.4L190.8 251.39L188.14 250.37z" fill="#472f7d"/><path d="M253.68 243.63L256.39 244.04L257.93 242.44L255.22 242.04z" fill="#20a386"/><path d="M215.85 249.86L218.53 250.61L220.11 248.76L217.43 248.02z" fill="#38588c"/><path d="M175.32 253.25L177.98 254.38L179.6 252.29L176.95 251.17z" fill="#482475"/><path d="M280.32 238.12L283.06 238.28L284.56 236.86L281.82 236.7z" fill="#a2da37"/><path d="M227.05 248.35L229.73 248.99L231.3 247.22L228.62 246.58z" fill="#2f6c8e"/><path d="M204.66 251.2L207.33 252.05L208.92 250.13L206.25 249.29z" fill="#404588"/><path d="M264.88 241.59L267.6 241.89L269.12 240.36L266.4 240.07z" fill="#40bd72"/><path d="M238.24 246.67L240.94 247.21L242.49 245.51L239.8 244.97z" fill="#26828e"/><path d="M193.46 252.37L196.12 253.33L197.73 251.34L195.07 250.39z" fill="#463480"/><path d="M249.44 244.83L252.14 245.27L253.68 243.63L250.98 243.2z" fill="#1f998a"/><path d="M182.26 253.38L184.91 254.44L186.53 252.38L183.87 251.33z" fill="#482677"/><path d="M291.53 235.7L294.28 235.76L295.77 234.41L293.02 234.36z" fill="#fde725"/><path d="M276.09 239.37L278.82 239.57L280.32 238.12L277.59 237.92z" fill="#84d44b"/><path d="M211.59 250.95L214.27 251.74L215.85 249.86L213.18 249.07z" fill="#3c4f8a"/><path d="M222.79 249.48L225.48 250.16L227.05 248.35L224.37 247.67z" fill="#33638d"/><path d="M200.39 252.26L203.06 253.15L204.66 251.2L201.99 250.31z" fill="#443b84"/><path d="M260.64 242.81L263.36 243.15L264.88 241.59L262.17 241.25z" fill="#2fb47c"/><path d="M233.99 247.83L236.68 248.41L238.24 246.67L235.55 246.09z" fill="#2a788e"/><path d="M189.19 253.4L191.85 254.39L193.46 252.37L190.8 251.39z" fill="#472c7a"/><path d="M245.19 246.02L247.89 246.5L249.44 244.83L246.74 244.35z" fill="#21908d"/><path d="M287.3 236.99L290.05 237.08L291.53 235.7L288.79 235.61z" fill="#dfe318"/><path d="M177.98 254.38L180.64 255.47L182.26 253.38L179.6 252.29z" fill="#481d6f"/><path d="M271.85 240.63L274.58 240.86L276.09 239.37L273.36 239.14z" fill="#69cd5b"/><path d="M207.33 252.05L210 252.87L211.59 250.95L208.92 250.13z" fill="#404588"/><path d="M218.53 250.61L221.21 251.32L222.79 249.48L220.11 248.76z" fill="#375a8c"/><path d="M256.39 244.04L259.11 244.41L260.64 242.81L257.93 242.44z" fill="#24aa83"/><path d="M196.12 253.33L198.79 254.25L200.39 252.26L197.73 251.34z" fill="#46327e"/><path d="M229.73 248.99L232.42 249.61L233.99 247.83L231.3 247.22z" fill="#2e6f8e"/><path d="M184.91 254.44L187.57 255.46L189.19 253.4L186.53 252.38z" fill="#482173"/><path d="M240.94 247.21L243.64 247.73L245.19 246.02L242.49 245.51z" fill="#25858e"/><path d="M283.06 238.28L285.8 238.41L287.3 236.99L284.56 236.86z" fill="#c0df25"/><path d="M267.6 241.89L270.33 242.16L271.85 240.63L269.12 240.36z" fill="#50c46a"/><path d="M252.14 245.27L254.86 245.68L256.39 244.04L253.68 243.63z" fill="#1fa088"/><path d="M214.27 251.74L216.95 252.49L218.53 250.61L215.85 249.86z" fill="#3c4f8a"/><path d="M203.06 253.15L205.73 254L207.33 252.05L204.66 251.2z" fill="#443a83"/><path d="M225.48 250.16L228.16 250.81L229.73 248.99L227.05 248.35z" fill="#32658e"/><path d="M191.85 254.39L194.52 255.35L196.12 253.33L193.46 252.37z" fill="#482878"/><path d="M278.82 239.57L281.56 239.74L283.06 238.28L280.32 238.12z" fill="#a0da39"/><path d="M236.68 248.41L239.38 248.96L240.94 247.21L238.24 246.67z" fill="#287c8e"/><path d="M180.64 255.47L183.3 256.53L184.91 254.44L182.26 253.38z" fill="#48186a"/><path d="M263.36 243.15L266.08 243.46L267.6 241.89L264.88 241.59z" fill="#3bbb75"/><path d="M247.89 246.5L250.6 246.94L252.14 245.27L249.44 244.83z" fill="#1f958b"/><path d="M210 252.87L212.68 253.66L214.27 251.74L211.59 250.95z" fill="#404588"/><path d="M198.79 254.25L201.46 255.14L203.06 253.15L200.39 252.26z" fill="#472f7d"/><path d="M221.21 251.32L223.9 252.01L225.48 250.16L222.79 249.48z" fill="#375b8d"/><path d="M187.57 255.46L190.24 256.45L191.85 254.39L189.19 253.4z" fill="#481d6f"/><path d="M274.58 240.86L277.31 241.07L278.82 239.57L276.09 239.37z" fill="#81d34d"/><path d="M290.05 237.08L292.8 237.14L294.28 235.76L291.53 235.7z" fill="#fde725"/><path d="M232.42 249.61L235.12 250.19L236.68 248.41L233.99 247.83z" fill="#2c728e"/><path d="M259.11 244.41L261.83 244.75L263.36 243.15L260.64 242.81z" fill="#2ab07f"/><path d="M243.64 247.73L246.34 248.21L247.89 246.5L245.19 246.02z" fill="#228b8d"/><path d="M205.73 254L208.41 254.83L210 252.87L207.33 252.05z" fill="#443a83"/><path d="M194.52 255.35L197.19 256.28L198.79 254.25L196.12 253.33z" fill="#482576"/><path d="M216.95 252.49L219.63 253.21L221.21 251.32L218.53 250.61z" fill="#3c508b"/><path d="M270.33 242.16L273.06 242.4L274.58 240.86L271.85 240.63z" fill="#65cb5e"/><path d="M285.8 238.41L288.55 238.51L290.05 237.08L287.3 236.99z" fill="#dfe318"/><path d="M254.86 245.68L257.57 246.05L259.11 244.41L256.39 244.04z" fill="#21a685"/><path d="M183.3 256.53L185.96 257.56L187.57 255.46L184.91 254.44z" fill="#471365"/><path d="M228.16 250.81L230.86 251.43L232.42 249.61L229.73 248.99z" fill="#31688e"/><path d="M239.38 248.96L242.08 249.47L243.64 247.73L240.94 247.21z" fill="#26818e"/><path d="M266.08 243.46L268.81 243.73L270.33 242.16L267.6 241.89z" fill="#4cc26c"/><path d="M281.56 239.74L284.3 239.87L285.8 238.41L283.06 238.28z" fill="#bddf26"/><path d="M201.46 255.14L204.14 256L205.73 254L203.06 253.15z" fill="#472e7c"/><path d="M212.68 253.66L215.36 254.42L216.95 252.49L214.27 251.74z" fill="#404688"/><path d="M190.24 256.45L192.91 257.42L194.52 255.35L191.85 254.39z" fill="#481a6c"/><path d="M250.6 246.94L253.31 247.35L254.86 245.68L252.14 245.27z" fill="#1e9b8a"/><path d="M223.9 252.01L226.59 252.66L228.16 250.81L225.48 250.16z" fill="#355e8d"/><path d="M235.12 250.19L237.82 250.74L239.38 248.96L236.68 248.41z" fill="#2a768e"/><path d="M277.31 241.07L280.05 241.23L281.56 239.74L278.82 239.57z" fill="#9bd93c"/><path d="M261.83 244.75L264.55 245.06L266.08 243.46L263.36 243.15z" fill="#37b878"/><path d="M197.19 256.28L199.86 257.17L201.46 255.14L198.79 254.25z" fill="#482374"/><path d="M208.41 254.83L211.09 255.62L212.68 253.66L210 252.87z" fill="#443a83"/><path d="M246.34 248.21L249.05 248.66L250.6 246.94L247.89 246.5z" fill="#21918c"/><path d="M185.96 257.56L188.62 258.56L190.24 256.45L187.57 255.46z" fill="#470d60"/><path d="M219.63 253.21L222.32 253.9L223.9 252.01L221.21 251.32z" fill="#3b528b"/><path d="M230.86 251.43L233.55 252.02L235.12 250.19L232.42 249.61z" fill="#2f6c8e"/><path d="M273.06 242.4L275.8 242.6L277.31 241.07L274.58 240.86z" fill="#7cd250"/><path d="M257.57 246.05L260.29 246.4L261.83 244.75L259.11 244.41z" fill="#26ad81"/><path d="M288.55 238.51L291.31 238.57L292.8 237.14L290.05 237.08z" fill="#fde725"/><path d="M242.08 249.47L244.79 249.96L246.34 248.21L243.64 247.73z" fill="#25858e"/><path d="M204.14 256L206.81 256.83L208.41 254.83L205.73 254z" fill="#472e7c"/><path d="M192.91 257.42L195.58 258.35L197.19 256.28L194.52 255.35z" fill="#481769"/><path d="M215.36 254.42L218.05 255.14L219.63 253.21L216.95 252.49z" fill="#3f4788"/><path d="M226.59 252.66L229.28 253.29L230.86 251.43L228.16 250.81z" fill="#34618d"/><path d="M268.81 243.73L271.54 243.97L273.06 242.4L270.33 242.16z" fill="#5ec962"/><path d="M253.31 247.35L256.03 247.73L257.57 246.05L254.86 245.68z" fill="#1fa187"/><path d="M284.3 239.87L287.05 239.97L288.55 238.51L285.8 238.41z" fill="#dde318"/><path d="M237.82 250.74L240.52 251.26L242.08 249.47L239.38 248.96z" fill="#297a8e"/><path d="M199.86 257.17L202.53 258.04L204.14 256L201.46 255.14z" fill="#482173"/><path d="M188.62 258.56L191.29 259.52L192.91 257.42L190.24 256.45z" fill="#46085c"/><path d="M211.09 255.62L213.77 256.38L215.36 254.42L212.68 253.66z" fill="#443a83"/><path d="M264.55 245.06L267.28 245.34L268.81 243.73L266.08 243.46z" fill="#44bf70"/><path d="M222.32 253.9L225.01 254.56L226.59 252.66L223.9 252.01z" fill="#39558c"/><path d="M280.05 241.23L282.8 241.37L284.3 239.87L281.56 239.74z" fill="#bade28"/><path d="M249.05 248.66L251.77 249.07L253.31 247.35L250.6 246.94z" fill="#1f968b"/><path d="M233.55 252.02L236.26 252.57L237.82 250.74L235.12 250.19z" fill="#2d708e"/><path d="M195.58 258.35L198.25 259.25L199.86 257.17L197.19 256.28z" fill="#481467"/><path d="M206.81 256.83L209.49 257.63L211.09 255.62L208.41 254.83z" fill="#472e7c"/><path d="M260.29 246.4L263.02 246.71L264.55 245.06L261.83 244.75z" fill="#31b57b"/><path d="M275.8 242.6L278.54 242.77L280.05 241.23L277.31 241.07z" fill="#95d840"/><path d="M218.05 255.14L220.74 255.84L222.32 253.9L219.63 253.21z" fill="#3e4989"/><path d="M244.79 249.96L247.5 250.41L249.05 248.66L246.34 248.21z" fill="#228b8d"/><path d="M229.28 253.29L231.98 253.88L233.55 252.02L230.86 251.43z" fill="#32648e"/><path d="M191.29 259.52L193.97 260.46L195.58 258.35L192.91 257.42z" fill="#450559"/><path d="M256.03 247.73L258.76 248.08L260.29 246.4L257.57 246.05z" fill="#23a983"/><path d="M202.53 258.04L205.21 258.87L206.81 256.83L204.14 256z" fill="#482071"/><path d="M271.54 243.97L274.28 244.18L275.8 242.6L273.06 242.4z" fill="#75d054"/><path d="M240.52 251.26L243.23 251.75L244.79 249.96L242.08 249.47z" fill="#27808e"/><path d="M213.77 256.38L216.46 257.11L218.05 255.14L215.36 254.42z" fill="#433d84"/><path d="M287.05 239.97L289.81 240.04L291.31 238.57L288.55 238.51z" fill="#fbe723"/><path d="M225.01 254.56L227.71 255.19L229.28 253.29L226.59 252.66z" fill="#38598c"/><path d="M251.77 249.07L254.49 249.45L256.03 247.73L253.31 247.35z" fill="#1e9d89"/><path d="M267.28 245.34L270.02 245.58L271.54 243.97L268.81 243.73z" fill="#58c765"/><path d="M198.25 259.25L200.93 260.12L202.53 258.04L199.86 257.17z" fill="#471365"/><path d="M236.26 252.57L238.96 253.09L240.52 251.26L237.82 250.74z" fill="#2b748e"/><path d="M282.8 241.37L285.55 241.47L287.05 239.97L284.3 239.87z" fill="#d8e219"/><path d="M209.49 257.63L212.18 258.39L213.77 256.38L211.09 255.62z" fill="#472e7c"/><path d="M220.74 255.84L223.43 256.5L225.01 254.56L222.32 253.9z" fill="#3e4c8a"/><path d="M263.02 246.71L265.75 246.99L267.28 245.34L264.55 245.06z" fill="#3dbc74"/><path d="M247.5 250.41L250.22 250.83L251.77 249.07L249.05 248.66z" fill="#21918c"/><path d="M278.54 242.77L281.29 242.91L282.8 241.37L280.05 241.23z" fill="#b2dd2d"/><path d="M231.98 253.88L234.69 254.44L236.26 252.57L233.55 252.02z" fill="#31688e"/><path d="M193.97 260.46L196.64 261.36L198.25 259.25L195.58 258.35z" fill="#440256"/><path d="M205.21 258.87L207.9 259.67L209.49 257.63L206.81 256.83z" fill="#482071"/><path d="M216.46 257.11L219.15 257.81L220.74 255.84L218.05 255.14z" fill="#433e85"/><path d="M258.76 248.08L261.48 248.4L263.02 246.71L260.29 246.4z" fill="#2ab07f"/><path d="M243.23 251.75L245.95 252.21L247.5 250.41L244.79 249.96z" fill="#25858e"/><path d="M274.28 244.18L277.03 244.35L278.54 242.77L275.8 242.6z" fill="#8ed645"/><path d="M227.71 255.19L230.41 255.78L231.98 253.88L229.28 253.29z" fill="#365c8d"/><path d="M200.93 260.12L203.61 260.95L205.21 258.87L202.53 258.04z" fill="#471164"/><path d="M212.18 258.39L214.87 259.13L216.46 257.11L213.77 256.38z" fill="#46307e"/><path d="M254.49 249.45L257.21 249.81L258.76 248.08L256.03 247.73z" fill="#20a486"/><path d="M238.96 253.09L241.67 253.58L243.23 251.75L240.52 251.26z" fill="#29798e"/><path d="M270.02 245.58L272.76 245.79L274.28 244.18L271.54 243.97z" fill="#6ece58"/><path d="M223.43 256.5L226.13 257.13L227.71 255.19L225.01 254.56z" fill="#3c4f8a"/><path d="M285.55 241.47L288.31 241.54L289.81 240.04L287.05 239.97z" fill="#f6e620"/><path d="M196.64 261.36L199.32 262.24L200.93 260.12L198.25 259.25z" fill="#440154"/><path d="M250.22 250.83L252.94 251.22L254.49 249.45L251.77 249.07z" fill="#1f978b"/><path d="M207.9 259.67L210.58 260.44L212.18 258.39L209.49 257.63z" fill="#482173"/><path d="M265.75 246.99L268.49 247.24L270.02 245.58L267.28 245.34z" fill="#50c46a"/><path d="M234.69 254.44L237.4 254.96L238.96 253.09L236.26 252.57z" fill="#2e6d8e"/><path d="M281.29 242.91L284.04 243.02L285.55 241.47L282.8 241.37z" fill="#d2e21b"/><path d="M219.15 257.81L221.85 258.48L223.43 256.5L220.74 255.84z" fill="#424186"/><path d="M245.95 252.21L248.67 252.63L250.22 250.83L247.5 250.41z" fill="#228b8d"/><path d="M261.48 248.4L264.22 248.68L265.75 246.99L263.02 246.71z" fill="#37b878"/><path d="M203.61 260.95L206.3 261.76L207.9 259.67L205.21 258.87z" fill="#471164"/><path d="M230.41 255.78L233.12 256.35L234.69 254.44L231.98 253.88z" fill="#34608d"/><path d="M277.03 244.35L279.78 244.49L281.29 242.91L278.54 242.77z" fill="#aadc32"/><path d="M214.87 259.13L217.56 259.83L219.15 257.81L216.46 257.11z" fill="#46327e"/><path d="M241.67 253.58L244.39 254.04L245.95 252.21L243.23 251.75z" fill="#277f8e"/><path d="M257.21 249.81L259.95 250.12L261.48 248.4L258.76 248.08z" fill="#25ac82"/><path d="M226.13 257.13L228.83 257.73L230.41 255.78L227.71 255.19z" fill="#3b528b"/><path d="M199.32 262.24L202 263.08L203.61 260.95L200.93 260.12z" fill="#440154"/><path d="M272.76 245.79L275.51 245.97L277.03 244.35L274.28 244.18z" fill="#86d549"/><path d="M210.58 260.44L213.27 261.18L214.87 259.13L212.18 258.39z" fill="#482374"/><path d="M237.4 254.96L240.11 255.46L241.67 253.58L238.96 253.09z" fill="#2c718e"/><path d="M252.94 251.22L255.67 251.57L257.21 249.81L254.49 249.45z" fill="#1f9f88"/><path d="M221.85 258.48L224.55 259.11L226.13 257.13L223.43 256.5z" fill="#414487"/><path d="M268.49 247.24L271.23 247.45L272.76 245.79L270.02 245.58z" fill="#63cb5f"/><path d="M206.3 261.76L208.98 262.53L210.58 260.44L207.9 259.67z" fill="#471365"/><path d="M284.04 243.02L286.81 243.09L288.31 241.54L285.55 241.47z" fill="#f1e51d"/><path d="M248.67 252.63L251.39 253.02L252.94 251.22L250.22 250.83z" fill="#20928c"/><path d="M233.12 256.35L235.83 256.88L237.4 254.96L234.69 254.44z" fill="#32658e"/><path d="M264.22 248.68L266.96 248.93L268.49 247.24L265.75 246.99z" fill="#46c06f"/><path d="M217.56 259.83L220.26 260.5L221.85 258.48L219.15 257.81z" fill="#453581"/><path d="M279.78 244.49L282.53 244.6L284.04 243.02L281.29 242.91z" fill="#cae11f"/><path d="M202 263.08L204.69 263.89L206.3 261.76L203.61 260.95z" fill="#440154"/><path d="M244.39 254.04L247.11 254.47L248.67 252.63L245.95 252.21z" fill="#25848e"/><path d="M228.83 257.73L231.54 258.29L233.12 256.35L230.41 255.78z" fill="#39568c"/><path d="M259.95 250.12L262.68 250.41L264.22 248.68L261.48 248.4z" fill="#2eb37c"/><path d="M213.27 261.18L215.97 261.88L217.56 259.83L214.87 259.13z" fill="#482576"/><path d="M275.51 245.97L278.26 246.12L279.78 244.49L277.03 244.35z" fill="#a2da37"/><path d="M240.11 255.46L242.83 255.92L244.39 254.04L241.67 253.58z" fill="#2a778e"/><path d="M224.55 259.11L227.25 259.71L228.83 257.73L226.13 257.13z" fill="#3f4889"/><path d="M255.67 251.57L258.4 251.89L259.95 250.12L257.21 249.81z" fill="#21a685"/><path d="M208.98 262.53L211.68 263.27L213.27 261.18L210.58 260.44z" fill="#481467"/><path d="M271.23 247.45L273.98 247.63L275.51 245.97L272.76 245.79z" fill="#7cd250"/><path d="M235.83 256.88L238.54 257.37L240.11 255.46L237.4 254.96z" fill="#306a8e"/><path d="M220.26 260.5L222.96 261.14L224.55 259.11L221.85 258.48z" fill="#453882"/><path d="M251.39 253.02L254.12 253.38L255.67 251.57L252.94 251.22z" fill="#1f988b"/><path d="M204.69 263.89L207.38 264.66L208.98 262.53L206.3 261.76z" fill="#440154"/><path d="M266.96 248.93L269.7 249.15L271.23 247.45L268.49 247.24z" fill="#5ac864"/><path d="M231.54 258.29L234.25 258.83L235.83 256.88L233.12 256.35z" fill="#365c8d"/><path d="M247.11 254.47L249.84 254.86L251.39 253.02L248.67 252.63z" fill="#228b8d"/><path d="M215.97 261.88L218.67 262.56L220.26 260.5L217.56 259.83z" fill="#482878"/><path d="M282.53 244.6L285.3 244.68L286.81 243.09L284.04 243.02z" fill="#eae51a"/><path d="M262.68 250.41L265.42 250.66L266.96 248.93L264.22 248.68z" fill="#3dbc74"/><path d="M227.25 259.71L229.96 260.28L231.54 258.29L228.83 257.73z" fill="#3d4d8a"/><path d="M242.83 255.92L245.55 256.35L247.11 254.47L244.39 254.04z" fill="#287d8e"/><path d="M278.26 246.12L281.02 246.23L282.53 244.6L279.78 244.49z" fill="#c2df23"/><path d="M211.68 263.27L214.37 263.98L215.97 261.88L213.27 261.18z" fill="#481769"/><path d="M258.4 251.89L261.14 252.18L262.68 250.41L259.95 250.12z" fill="#28ae80"/><path d="M273.98 247.63L276.74 247.78L278.26 246.12L275.51 245.97z" fill="#98d83e"/><path d="M222.96 261.14L225.67 261.74L227.25 259.71L224.55 259.11z" fill="#433d84"/><path d="M238.54 257.37L241.26 257.84L242.83 255.92L240.11 255.46z" fill="#2d708e"/><path d="M207.38 264.66L210.08 265.41L211.68 263.27L208.98 262.53z" fill="#440256"/><path d="M254.12 253.38L256.85 253.7L258.4 251.89L255.67 251.57z" fill="#1fa088"/><path d="M269.7 249.15L272.45 249.33L273.98 247.63L271.23 247.45z" fill="#70cf57"/><path d="M234.25 258.83L236.97 259.33L238.54 257.37L235.83 256.88z" fill="#34618d"/><path d="M218.67 262.56L221.37 263.2L222.96 261.14L220.26 260.5z" fill="#472c7a"/><path d="M249.84 254.86L252.57 255.23L254.12 253.38L251.39 253.02z" fill="#20928c"/><path d="M265.42 250.66L268.17 250.89L269.7 249.15L266.96 248.93z" fill="#50c46a"/><path d="M229.96 260.28L232.67 260.82L234.25 258.83L231.54 258.29z" fill="#3b518b"/><path d="M214.37 263.98L217.07 264.66L218.67 262.56L215.97 261.88z" fill="#481a6c"/><path d="M245.55 256.35L248.28 256.75L249.84 254.86L247.11 254.47z" fill="#25838e"/><path d="M281.02 246.23L283.78 246.31L285.3 244.68L282.53 244.6z" fill="#e2e418"/><path d="M261.14 252.18L263.88 252.44L265.42 250.66L262.68 250.41z" fill="#34b679"/><path d="M225.67 261.74L228.38 262.32L229.96 260.28L227.25 259.71z" fill="#424186"/><path d="M210.08 265.41L212.77 266.12L214.37 263.98L211.68 263.27z" fill="#450559"/><path d="M241.26 257.84L243.98 258.27L245.55 256.35L242.83 255.92z" fill="#2b758e"/><path d="M276.74 247.78L279.5 247.9L281.02 246.23L278.26 246.12z" fill="#b5de2b"/><path d="M256.85 253.7L259.59 254L261.14 252.18L258.4 251.89z" fill="#22a884"/><path d="M221.37 263.2L224.08 263.81L225.67 261.74L222.96 261.14z" fill="#472f7d"/><path d="M236.97 259.33L239.69 259.8L241.26 257.84L238.54 257.37z" fill="#31678e"/><path d="M272.45 249.33L275.21 249.48L276.74 247.78L273.98 247.63z" fill="#8bd646"/><path d="M252.57 255.23L255.3 255.56L256.85 253.7L254.12 253.38z" fill="#1f998a"/><path d="M217.07 264.66L219.78 265.31L221.37 263.2L218.67 262.56z" fill="#481d6f"/><path d="M232.67 260.82L235.39 261.33L236.97 259.33L234.25 258.83z" fill="#38588c"/><path d="M268.17 250.89L270.92 251.07L272.45 249.33L269.7 249.15z" fill="#65cb5e"/><path d="M248.28 256.75L251.01 257.12L252.57 255.23L249.84 254.86z" fill="#228b8d"/><path d="M212.77 266.12L215.48 266.8L217.07 264.66L214.37 263.98z" fill="#46085c"/><path d="M228.38 262.32L231.09 262.86L232.67 260.82L229.96 260.28z" fill="#404688"/><path d="M263.88 252.44L266.63 252.67L268.17 250.89L265.42 250.66z" fill="#44bf70"/><path d="M243.98 258.27L246.71 258.68L248.28 256.75L245.55 256.35z" fill="#287c8e"/><path d="M224.08 263.81L226.79 264.39L228.38 262.32L225.67 261.74z" fill="#463480"/><path d="M259.59 254L262.34 254.26L263.88 252.44L261.14 252.18z" fill="#2ab07f"/><path d="M279.5 247.9L282.26 247.98L283.78 246.31L281.02 246.23z" fill="#d8e219"/><path d="M239.69 259.8L242.42 260.24L243.98 258.27L241.26 257.84z" fill="#2e6d8e"/><path d="M255.3 255.56L258.04 255.85L259.59 254L256.85 253.7z" fill="#1fa187"/><path d="M275.21 249.48L277.97 249.6L279.5 247.9L276.74 247.78z" fill="#aadc32"/><path d="M219.78 265.31L222.49 265.92L224.08 263.81L221.37 263.2z" fill="#482173"/><path d="M235.39 261.33L238.12 261.8L239.69 259.8L236.97 259.33z" fill="#365d8d"/><path d="M270.92 251.07L273.68 251.23L275.21 249.48L272.45 249.33z" fill="#7fd34e"/><path d="M251.01 257.12L253.75 257.45L255.3 255.56L252.57 255.23z" fill="#20928c"/><path d="M215.48 266.8L218.18 267.45L219.78 265.31L217.07 264.66z" fill="#470d60"/><path d="M231.09 262.86L233.81 263.37L235.39 261.33L232.67 260.82z" fill="#3d4d8a"/><path d="M266.63 252.67L269.39 252.86L270.92 251.07L268.17 250.89z" fill="#58c765"/><path d="M246.71 258.68L249.45 259.05L251.01 257.12L248.28 256.75z" fill="#26828e"/><path d="M226.79 264.39L229.51 264.93L231.09 262.86L228.38 262.32z" fill="#443a83"/><path d="M262.34 254.26L265.09 254.49L266.63 252.67L263.88 252.44z" fill="#38b977"/><path d="M242.42 260.24L245.15 260.64L246.71 258.68L243.98 258.27z" fill="#2c738e"/><path d="M222.49 265.92L225.2 266.5L226.79 264.39L224.08 263.81z" fill="#482677"/><path d="M258.04 255.85L260.79 256.12L262.34 254.26L259.59 254z" fill="#24aa83"/><path d="M238.12 261.8L240.84 262.24L242.42 260.24L239.69 259.8z" fill="#32648e"/><path d="M277.97 249.6L280.74 249.69L282.26 247.98L279.5 247.9z" fill="#cae11f"/><path d="M218.18 267.45L220.9 268.07L222.49 265.92L219.78 265.31z" fill="#471164"/><path d="M253.75 257.45L256.49 257.75L258.04 255.85L255.3 255.56z" fill="#1f9a8a"/><path d="M233.81 263.37L236.54 263.84L238.12 261.8L235.39 261.33z" fill="#3b528b"/><path d="M273.68 251.23L276.44 251.35L277.97 249.6L275.21 249.48z" fill="#9bd93c"/><path d="M249.45 259.05L252.19 259.38L253.75 257.45L251.01 257.12z" fill="#238a8d"/><path d="M269.39 252.86L272.15 253.02L273.68 251.23L270.92 251.07z" fill="#70cf57"/><path d="M229.51 264.93L232.23 265.45L233.81 263.37L231.09 262.86z" fill="#424086"/><path d="M245.15 260.64L247.88 261.02L249.45 259.05L246.71 258.68z" fill="#297a8e"/><path d="M265.09 254.49L267.85 254.68L269.39 252.86L266.63 252.67z" fill="#4ac16d"/><path d="M225.2 266.5L227.92 267.05L229.51 264.93L226.79 264.39z" fill="#472c7a"/><path d="M240.84 262.24L243.58 262.65L245.15 260.64L242.42 260.24z" fill="#306a8e"/><path d="M260.79 256.12L263.54 256.35L265.09 254.49L262.34 254.26z" fill="#2eb37c"/><path d="M220.9 268.07L223.61 268.66L225.2 266.5L222.49 265.92z" fill="#481769"/><path d="M236.54 263.84L239.27 264.29L240.84 262.24L238.12 261.8z" fill="#38598c"/><path d="M256.49 257.75L259.24 258.02L260.79 256.12L258.04 255.85z" fill="#1fa287"/><path d="M276.44 251.35L279.22 251.44L280.74 249.69L277.97 249.6z" fill="#bade28"/><path d="M232.23 265.45L234.96 265.93L236.54 263.84L233.81 263.37z" fill="#404688"/><path d="M252.19 259.38L254.93 259.69L256.49 257.75L253.75 257.45z" fill="#20928c"/><path d="M272.15 253.02L274.91 253.14L276.44 251.35L273.68 251.23z" fill="#8bd646"/><path d="M247.88 261.02L250.62 261.36L252.19 259.38L249.45 259.05z" fill="#26828e"/><path d="M227.92 267.05L230.65 267.57L232.23 265.45L229.51 264.93z" fill="#46327e"/><path d="M267.85 254.68L270.61 254.84L272.15 253.02L269.39 252.86z" fill="#60ca60"/><path d="M243.58 262.65L246.31 263.03L247.88 261.02L245.15 260.64z" fill="#2c718e"/><path d="M223.61 268.66L226.33 269.21L227.92 267.05L225.2 266.5z" fill="#481c6e"/><path d="M263.54 256.35L266.3 256.55L267.85 254.68L265.09 254.49z" fill="#3dbc74"/><path d="M239.27 264.29L242 264.7L243.58 262.65L240.84 262.24z" fill="#34608d"/><path d="M259.24 258.02L261.99 258.25L263.54 256.35L260.79 256.12z" fill="#25ac82"/><path d="M234.96 265.93L237.69 266.38L239.27 264.29L236.54 263.84z" fill="#3d4e8a"/><path d="M254.93 259.69L257.68 259.96L259.24 258.02L256.49 257.75z" fill="#1e9b8a"/><path d="M274.91 253.14L277.68 253.24L279.22 251.44L276.44 251.35z" fill="#aadc32"/><path d="M230.65 267.57L233.37 268.05L234.96 265.93L232.23 265.45z" fill="#443983"/><path d="M250.62 261.36L253.37 261.67L254.93 259.69L252.19 259.38z" fill="#238a8d"/><path d="M270.61 254.84L273.38 254.97L274.91 253.14L272.15 253.02z" fill="#7cd250"/><path d="M226.33 269.21L229.06 269.73L230.65 267.57L227.92 267.05z" fill="#482374"/><path d="M246.31 263.03L249.06 263.37L250.62 261.36L247.88 261.02z" fill="#29798e"/><path d="M266.3 256.55L269.06 256.71L270.61 254.84L267.85 254.68z" fill="#52c569"/><path d="M242 264.7L244.74 265.08L246.31 263.03L243.58 262.65z" fill="#31688e"/><path d="M261.99 258.25L264.75 258.45L266.3 256.55L263.54 256.35z" fill="#31b57b"/><path d="M237.69 266.38L240.42 266.8L242 264.7L239.27 264.29z" fill="#3a548c"/><path d="M257.68 259.96L260.44 260.2L261.99 258.25L259.24 258.02z" fill="#20a486"/><path d="M233.37 268.05L236.11 268.51L237.69 266.38L234.96 265.93z" fill="#424086"/><path d="M253.37 261.67L256.12 261.94L257.68 259.96L254.93 259.69z" fill="#20928c"/><path d="M229.06 269.73L231.79 270.22L233.37 268.05L230.65 267.57z" fill="#472a7a"/><path d="M249.06 263.37L251.81 263.69L253.37 261.67L250.62 261.36z" fill="#26818e"/><path d="M273.38 254.97L276.15 255.07L277.68 253.24L274.91 253.14z" fill="#9bd93c"/><path d="M269.06 256.71L271.83 256.85L273.38 254.97L270.61 254.84z" fill="#6ccd5a"/><path d="M244.74 265.08L247.49 265.43L249.06 263.37L246.31 263.03z" fill="#2d708e"/><path d="M264.75 258.45L267.52 258.62L269.06 256.71L266.3 256.55z" fill="#42be71"/><path d="M240.42 266.8L243.17 267.18L244.74 265.08L242 264.7z" fill="#365d8d"/><path d="M260.44 260.2L263.2 260.4L264.75 258.45L261.99 258.25z" fill="#27ad81"/><path d="M236.11 268.51L238.84 268.93L240.42 266.8L237.69 266.38z" fill="#3f4889"/><path d="M256.12 261.94L258.88 262.18L260.44 260.2L257.68 259.96z" fill="#1e9c89"/><path d="M231.79 270.22L234.52 270.68L236.11 268.51L233.37 268.05z" fill="#46327e"/><path d="M251.81 263.69L254.56 263.96L256.12 261.94L253.37 261.67z" fill="#23898e"/><path d="M247.49 265.43L250.24 265.75L251.81 263.69L249.06 263.37z" fill="#2a778e"/><path d="M271.83 256.85L274.61 256.95L276.15 255.07L273.38 254.97z" fill="#89d548"/><path d="M243.17 267.18L245.91 267.53L247.49 265.43L244.74 265.08z" fill="#32658e"/><path d="M267.52 258.62L270.29 258.76L271.83 256.85L269.06 256.71z" fill="#5ac864"/><path d="M238.84 268.93L241.59 269.32L243.17 267.18L240.42 266.8z" fill="#3c508b"/><path d="M263.2 260.4L265.97 260.58L267.52 258.62L264.75 258.45z" fill="#35b779"/><path d="M234.52 270.68L237.26 271.1L238.84 268.93L236.11 268.51z" fill="#443a83"/><path d="M258.88 262.18L261.64 262.39L263.2 260.4L260.44 260.2z" fill="#21a585"/><path d="M254.56 263.96L257.32 264.21L258.88 262.18L256.12 261.94z" fill="#20928c"/><path d="M250.24 265.75L252.99 266.03L254.56 263.96L251.81 263.69z" fill="#27808e"/><path d="M245.91 267.53L248.66 267.85L250.24 265.75L247.49 265.43z" fill="#2e6d8e"/><path d="M270.29 258.76L273.07 258.86L274.61 256.95L271.83 256.85z" fill="#75d054"/><path d="M241.59 269.32L244.33 269.67L245.91 267.53L243.17 267.18z" fill="#38598c"/><path d="M265.97 260.58L268.74 260.72L270.29 258.76L267.52 258.62z" fill="#48c16e"/><path d="M237.26 271.1L240 271.5L241.59 269.32L238.84 268.93z" fill="#414287"/><path d="M261.64 262.39L264.41 262.57L265.97 260.58L263.2 260.4z" fill="#29af7f"/><path d="M257.32 264.21L260.08 264.42L261.64 262.39L258.88 262.18z" fill="#1e9c89"/><path d="M252.99 266.03L255.75 266.28L257.32 264.21L254.56 263.96z" fill="#23898e"/><path d="M248.66 267.85L251.42 268.14L252.99 266.03L250.24 265.75z" fill="#2b758e"/><path d="M244.33 269.67L247.09 270L248.66 267.85L245.91 267.53z" fill="#33628d"/><path d="M240 271.5L242.75 271.86L244.33 269.67L241.59 269.32z" fill="#3e4c8a"/><path d="M268.74 260.72L271.52 260.82L273.07 258.86L270.29 258.76z" fill="#60ca60"/><path d="M264.41 262.57L267.19 262.71L268.74 260.72L265.97 260.58z" fill="#38b977"/><path d="M260.08 264.42L262.85 264.61L264.41 262.57L261.64 262.39z" fill="#21a685"/><path d="M255.75 266.28L258.52 266.5L260.08 264.42L257.32 264.21z" fill="#20928c"/><path d="M251.42 268.14L254.18 268.39L255.75 266.28L252.99 266.03z" fill="#277f8e"/><path d="M247.09 270L249.85 270.29L251.42 268.14L248.66 267.85z" fill="#2f6b8e"/><path d="M242.75 271.86L245.51 272.18L247.09 270L244.33 269.67z" fill="#39558c"/><path d="M267.19 262.71L269.97 262.82L271.52 260.82L268.74 260.72z" fill="#4ec36b"/><path d="M262.85 264.61L265.63 264.75L267.19 262.71L264.41 262.57z" fill="#2ab07f"/><path d="M258.52 266.5L261.29 266.68L262.85 264.61L260.08 264.42z" fill="#1e9d89"/><path d="M254.18 268.39L256.95 268.61L258.52 266.5L255.75 266.28z" fill="#23888e"/><path d="M249.85 270.29L252.61 270.54L254.18 268.39L251.42 268.14z" fill="#2c738e"/><path d="M245.51 272.18L248.27 272.48L249.85 270.29L247.09 270z" fill="#355e8d"/><path d="M265.63 264.75L268.41 264.87L269.97 262.82L267.19 262.71z" fill="#3bbb75"/><path d="M261.29 266.68L264.07 266.83L265.63 264.75L262.85 264.61z" fill="#22a785"/><path d="M256.95 268.61L259.72 268.8L261.29 266.68L258.52 266.5z" fill="#20928c"/><path d="M252.61 270.54L255.38 270.77L256.95 268.61L254.18 268.39z" fill="#287d8e"/><path d="M248.27 272.48L251.03 272.74L252.61 270.54L249.85 270.29z" fill="#31688e"/><path d="M264.07 266.83L266.85 266.95L268.41 264.87L265.63 264.75z" fill="#2db27d"/><path d="M259.72 268.8L262.5 268.96L264.07 266.83L261.29 266.68z" fill="#1e9d89"/><path d="M255.38 270.77L258.15 270.96L259.72 268.8L256.95 268.61z" fill="#24878e"/><path d="M251.03 272.74L253.8 272.97L255.38 270.77L252.61 270.54z" fill="#2c718e"/><path d="M262.5 268.96L265.29 269.08L266.85 266.95L264.07 266.83z" fill="#22a884"/><path d="M258.15 270.96L260.94 271.12L262.5 268.96L259.72 268.8z" fill="#20928c"/><path d="M253.8 272.97L256.58 273.16L258.15 270.96L255.38 270.77z" fill="#287c8e"/><path d="M260.94 271.12L263.72 271.25L265.29 269.08L262.5 268.96z" fill="#1e9d89"/><path d="M256.58 273.16L259.36 273.33L260.94 271.12L258.15 270.96z" fill="#24868e"/><path d="M259.36 273.33L262.15 273.46L263.72 271.25L260.94 271.12z" fill="#20928c"/></g><circle cx="258.48" cy="244.08" r="2.7386" fill="#f00" stroke="#8b0000" stroke-width=".5"/><defs><linearGradient id="vg" x1="0" y1="1" x2="0" y2="0"><stop offset="0" stop-color="#60276e"/><stop offset=".0312" stop-color="#623178"/><stop offset=".0625" stop-color="#633b81"/><stop offset=".0938" stop-color="#644489"/><stop offset=".125" stop-color="#634c8f"/><stop offset=".1562" stop-color="#615594"/><stop offset=".1875" stop-color="#5e5d98"/><stop offset=".2188" stop-color="#5b659b"/><stop offset=".25" stop-color="#586c9d"/><stop offset=".2812" stop-color="#55739e"/><stop offset=".3125" stop-color="#517a9e"/><stop offset=".3438" stop-color="#4e819f"/><stop offset=".375" stop-color="#4c889f"/><stop offset=".4062" stop-color="#498e9f"/><stop offset=".4375" stop-color="#47949f"/><stop offset=".4688" stop-color="#449b9f"/><stop offset=".5" stop-color="#42a19e"/><stop offset=".5312" stop-color="#40a89c"/><stop offset=".5625" stop-color="#40ae9a"/><stop offset=".5938" stop-color="#43b497"/><stop offset=".625" stop-color="#48ba93"/><stop offset=".6562" stop-color="#51c18e"/><stop offset=".6875" stop-color="#5cc688"/><stop offset=".7188" stop-color="#68cc81"/><stop offset=".75" stop-color="#76d179"/><stop offset=".7812" stop-color="#86d670"/><stop offset=".8125" stop-color="#96da66"/><stop offset=".8438" stop-color="#a7de5b"/><stop offset=".875" stop-color="#b9e14f"/><stop offset=".9062" stop-color="#cbe444"/><stop offset=".9375" stop-color="#dee73c"/><stop offset=".9688" stop-color="#efe93d"/><stop offset="1" stop-color="#feeb45"/></linearGradient></defs><rect x="451.2" y="134.88" width="16.8" height="166.56" fill="url(#vg)"/><path d="M468 267.84h3.5" stroke="#000" stroke-width=".8"/><text font-size="10" x="475.072" y="271.968">490</text><path d="M468 231.36h3.5" stroke="#000" stroke-width=".8"/><text font-size="10" x="475.072" y="235.584">500</text><path d="M468 195.36h3.5" stroke="#000" stroke-width=".8"/><text font-size="10" x="475.072" y="199.488">510</text><path d="M468 158.88h3.5" stroke="#000" stroke-width=".8"/><text font-size="10" x="475.072" y="163.08">520</text><rect x="451.2" y="134.88" width="16.8" height="166.56" fill="none" stroke="#000" stroke-width=".8" stroke-linejoin="miter"/> 
</svg>
</body></html>
